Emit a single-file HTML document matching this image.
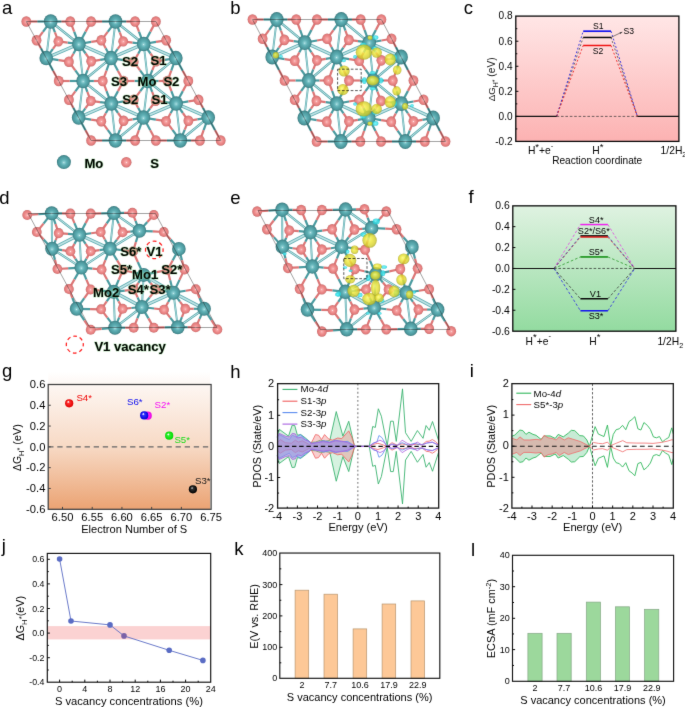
<!DOCTYPE html>
<html lang="en"><head><meta charset="utf-8"><title>Figure</title>
<style>
html,body{margin:0;padding:0;background:#fff;}
body{width:685px;height:707px;overflow:hidden;font-family:"Liberation Sans",sans-serif;}
svg{display:block;}
text{white-space:pre;}
</style></head><body>
<svg width="685" height="707" viewBox="0 0 685 707" font-family="'Liberation Sans', sans-serif">
<filter id="soft" x="0" y="0" width="685" height="707" filterUnits="userSpaceOnUse" color-interpolation-filters="sRGB"><feConvolveMatrix order="3" kernelMatrix="6 67 6 67 708 67 6 67 6" divisor="1000" edgeMode="duplicate" preserveAlpha="true"/></filter>
<rect width="685" height="707" fill="#fff"/>
<g filter="url(#soft)">
<rect x="-5" y="-5" width="695" height="717" fill="#fff"/>
<defs>
<radialGradient id="gMo" cx="0.5" cy="0.5" r="0.5" fx="0.5" fy="0.54">
<stop offset="0" stop-color="#e4f6f7"/><stop offset="0.1" stop-color="#8fd0d4"/><stop offset="0.4" stop-color="#5fb0b5"/><stop offset="0.8" stop-color="#4c989d"/><stop offset="0.93" stop-color="#41868b"/><stop offset="1" stop-color="#3a767a"/>
</radialGradient>
<radialGradient id="gS" cx="0.5" cy="0.5" r="0.5" fx="0.5" fy="0.53">
<stop offset="0" stop-color="#fff2f2"/><stop offset="0.13" stop-color="#f7abab"/><stop offset="0.5" stop-color="#ee8c8c"/><stop offset="0.85" stop-color="#e07a7a"/><stop offset="0.93" stop-color="#d27070"/><stop offset="1" stop-color="#c06464"/>
</radialGradient>
<radialGradient id="gY" cx="0.5" cy="0.5" r="0.5" fx="0.4" fy="0.38">
<stop offset="0" stop-color="#fdf96e"/><stop offset="0.45" stop-color="#ece632"/><stop offset="0.82" stop-color="#d3cd28"/><stop offset="1" stop-color="#aba620"/>
</radialGradient>
<radialGradient id="gC" cx="0.5" cy="0.5" r="0.5">
<stop offset="0" stop-color="#5ff0f5"/><stop offset="0.7" stop-color="#2fdde6"/><stop offset="1" stop-color="#22c3cf"/>
</radialGradient>
<linearGradient id="bgC" x1="0" y1="0" x2="0" y2="1">
<stop offset="0" stop-color="#ffe6e6"/><stop offset="1" stop-color="#fcb2b2"/>
</linearGradient>
<linearGradient id="bgF" x1="0" y1="0" x2="0" y2="1">
<stop offset="0" stop-color="#dff2e1"/><stop offset="1" stop-color="#93dba0"/>
</linearGradient>
<linearGradient id="bgG" x1="0" y1="0" x2="0" y2="1">
<stop offset="0" stop-color="#ffffff"/><stop offset="0.12" stop-color="#fdf5f0"/><stop offset="0.55" stop-color="#f7d9c4"/><stop offset="1" stop-color="#eba373"/>
</linearGradient>
<radialGradient id="bR" cx="0.5" cy="0.5" r="0.5" fx="0.36" fy="0.3"><stop offset="0" stop-color="#ffffff"/><stop offset="0.08" stop-color="#fff"/><stop offset="0.32" stop-color="#ff3030"/><stop offset="1" stop-color="#e00000"/></radialGradient>
<radialGradient id="bB" cx="0.5" cy="0.5" r="0.5" fx="0.36" fy="0.3"><stop offset="0" stop-color="#ffffff"/><stop offset="0.08" stop-color="#fff"/><stop offset="0.32" stop-color="#3030ff"/><stop offset="1" stop-color="#0000d8"/></radialGradient>
<radialGradient id="bM" cx="0.5" cy="0.5" r="0.5" fx="0.36" fy="0.3"><stop offset="0" stop-color="#ffffff"/><stop offset="0.08" stop-color="#fff"/><stop offset="0.32" stop-color="#ff30ff"/><stop offset="1" stop-color="#e800e0"/></radialGradient>
<radialGradient id="bG" cx="0.5" cy="0.5" r="0.5" fx="0.36" fy="0.3"><stop offset="0" stop-color="#ffffff"/><stop offset="0.08" stop-color="#fff"/><stop offset="0.32" stop-color="#30f030"/><stop offset="1" stop-color="#00d800"/></radialGradient>
<radialGradient id="bK" cx="0.5" cy="0.5" r="0.5" fx="0.38" fy="0.32"><stop offset="0" stop-color="#e8e8e8"/><stop offset="0.3" stop-color="#303030"/><stop offset="1" stop-color="#000000"/></radialGradient>
</defs>
<g id="pa"><g stroke-linecap="butt"><line x1="50.7" y1="21.5" x2="78.9" y2="43.99" stroke="#56a8ad" stroke-width="2.3"/><line x1="50.7" y1="21.5" x2="78.9" y2="43.99" stroke="#d4eded" stroke-width="0.9"/><line x1="50.7" y1="21.5" x2="46.23" y2="58.09" stroke="#56a8ad" stroke-width="1.9"/><line x1="50.7" y1="21.5" x2="46.23" y2="58.09" stroke="#c4e6e7" stroke-width="0.7"/><line x1="115.5" y1="21.5" x2="143.7" y2="43.99" stroke="#56a8ad" stroke-width="2.3"/><line x1="115.5" y1="21.5" x2="143.7" y2="43.99" stroke="#d4eded" stroke-width="0.9"/><line x1="115.5" y1="21.5" x2="111.03" y2="58.09" stroke="#56a8ad" stroke-width="1.9"/><line x1="115.5" y1="21.5" x2="111.03" y2="58.09" stroke="#c4e6e7" stroke-width="0.7"/><line x1="83.1" y1="81" x2="78.9" y2="43.99" stroke="#56a8ad" stroke-width="1.9"/><line x1="83.1" y1="81" x2="78.9" y2="43.99" stroke="#c4e6e7" stroke-width="0.7"/><line x1="83.1" y1="81" x2="111.3" y2="103.49" stroke="#56a8ad" stroke-width="2.3"/><line x1="83.1" y1="81" x2="111.3" y2="103.49" stroke="#d4eded" stroke-width="0.9"/><line x1="83.1" y1="81" x2="111.03" y2="58.09" stroke="#56a8ad" stroke-width="2.3"/><line x1="83.1" y1="81" x2="111.03" y2="58.09" stroke="#d4eded" stroke-width="0.9"/><line x1="83.1" y1="81" x2="78.63" y2="117.59" stroke="#56a8ad" stroke-width="1.9"/><line x1="83.1" y1="81" x2="78.63" y2="117.59" stroke="#c4e6e7" stroke-width="0.7"/><line x1="147.9" y1="81" x2="143.7" y2="43.99" stroke="#56a8ad" stroke-width="1.9"/><line x1="147.9" y1="81" x2="143.7" y2="43.99" stroke="#c4e6e7" stroke-width="0.7"/><line x1="147.9" y1="81" x2="176.1" y2="103.49" stroke="#56a8ad" stroke-width="2.3"/><line x1="147.9" y1="81" x2="176.1" y2="103.49" stroke="#d4eded" stroke-width="0.9"/><line x1="147.9" y1="81" x2="175.83" y2="58.09" stroke="#56a8ad" stroke-width="2.3"/><line x1="147.9" y1="81" x2="175.83" y2="58.09" stroke="#d4eded" stroke-width="0.9"/><line x1="147.9" y1="81" x2="143.43" y2="117.59" stroke="#56a8ad" stroke-width="1.9"/><line x1="147.9" y1="81" x2="143.43" y2="117.59" stroke="#c4e6e7" stroke-width="0.7"/><line x1="115.5" y1="140.5" x2="111.3" y2="103.49" stroke="#56a8ad" stroke-width="1.9"/><line x1="115.5" y1="140.5" x2="111.3" y2="103.49" stroke="#c4e6e7" stroke-width="0.7"/><line x1="115.5" y1="140.5" x2="143.43" y2="117.59" stroke="#56a8ad" stroke-width="2.3"/><line x1="115.5" y1="140.5" x2="143.43" y2="117.59" stroke="#d4eded" stroke-width="0.9"/><line x1="180.3" y1="140.5" x2="176.1" y2="103.49" stroke="#56a8ad" stroke-width="1.9"/><line x1="180.3" y1="140.5" x2="176.1" y2="103.49" stroke="#c4e6e7" stroke-width="0.7"/><line x1="180.3" y1="140.5" x2="208.23" y2="117.59" stroke="#56a8ad" stroke-width="2.3"/><line x1="180.3" y1="140.5" x2="208.23" y2="117.59" stroke="#d4eded" stroke-width="0.9"/><line x1="78.9" y1="43.99" x2="46.23" y2="58.09" stroke="#5eadb2" stroke-width="3.3"/><line x1="78.9" y1="43.99" x2="46.23" y2="58.09" stroke="#bfe2e4" stroke-width="1.7"/><line x1="78.9" y1="43.99" x2="111.03" y2="58.09" stroke="#5eadb2" stroke-width="3.3"/><line x1="78.9" y1="43.99" x2="111.03" y2="58.09" stroke="#bfe2e4" stroke-width="1.7"/><line x1="143.7" y1="43.99" x2="111.03" y2="58.09" stroke="#5eadb2" stroke-width="3.3"/><line x1="143.7" y1="43.99" x2="111.03" y2="58.09" stroke="#bfe2e4" stroke-width="1.7"/><line x1="143.7" y1="43.99" x2="175.83" y2="58.09" stroke="#5eadb2" stroke-width="3.3"/><line x1="143.7" y1="43.99" x2="175.83" y2="58.09" stroke="#bfe2e4" stroke-width="1.7"/><line x1="111.3" y1="103.49" x2="78.63" y2="117.59" stroke="#5eadb2" stroke-width="3.3"/><line x1="111.3" y1="103.49" x2="78.63" y2="117.59" stroke="#bfe2e4" stroke-width="1.7"/><line x1="111.3" y1="103.49" x2="143.43" y2="117.59" stroke="#5eadb2" stroke-width="3.3"/><line x1="111.3" y1="103.49" x2="143.43" y2="117.59" stroke="#bfe2e4" stroke-width="1.7"/><line x1="176.1" y1="103.49" x2="143.43" y2="117.59" stroke="#5eadb2" stroke-width="3.3"/><line x1="176.1" y1="103.49" x2="143.43" y2="117.59" stroke="#bfe2e4" stroke-width="1.7"/><line x1="176.1" y1="103.49" x2="208.23" y2="117.59" stroke="#5eadb2" stroke-width="3.3"/><line x1="176.1" y1="103.49" x2="208.23" y2="117.59" stroke="#bfe2e4" stroke-width="1.7"/><line x1="50.7" y1="21.5" x2="37.28" y2="21.5" stroke="#4a9ba0" stroke-width="2.2"/><line x1="37.28" y1="21.5" x2="26.3" y2="21.5" stroke="#dc7676" stroke-width="2.2"/><line x1="50.7" y1="21.5" x2="61.48" y2="21.5" stroke="#4a9ba0" stroke-width="2.2"/><line x1="61.48" y1="21.5" x2="70.3" y2="21.5" stroke="#dc7676" stroke-width="2.2"/><line x1="50.7" y1="21.5" x2="42.91" y2="31.84" stroke="#4a9ba0" stroke-width="2.2"/><line x1="42.91" y1="31.84" x2="36.54" y2="40.3" stroke="#dc7676" stroke-width="2.2"/><line x1="50.7" y1="21.5" x2="54.95" y2="32.43" stroke="#4a9ba0" stroke-width="2.2"/><line x1="54.95" y1="32.43" x2="58.42" y2="41.37" stroke="#dc7676" stroke-width="2.2"/><line x1="115.5" y1="21.5" x2="102.08" y2="21.5" stroke="#4a9ba0" stroke-width="2.2"/><line x1="102.08" y1="21.5" x2="91.1" y2="21.5" stroke="#dc7676" stroke-width="2.2"/><line x1="115.5" y1="21.5" x2="126.28" y2="21.5" stroke="#4a9ba0" stroke-width="2.2"/><line x1="126.28" y1="21.5" x2="135.1" y2="21.5" stroke="#dc7676" stroke-width="2.2"/><line x1="115.5" y1="21.5" x2="107.71" y2="31.84" stroke="#4a9ba0" stroke-width="2.2"/><line x1="107.71" y1="31.84" x2="101.34" y2="40.3" stroke="#dc7676" stroke-width="2.2"/><line x1="115.5" y1="21.5" x2="119.75" y2="32.43" stroke="#4a9ba0" stroke-width="2.2"/><line x1="119.75" y1="32.43" x2="123.22" y2="41.37" stroke="#dc7676" stroke-width="2.2"/><line x1="83.1" y1="81" x2="69.68" y2="81" stroke="#4a9ba0" stroke-width="2.2"/><line x1="69.68" y1="81" x2="58.7" y2="81" stroke="#dc7676" stroke-width="2.2"/><line x1="83.1" y1="81" x2="93.88" y2="81" stroke="#4a9ba0" stroke-width="2.2"/><line x1="93.88" y1="81" x2="102.7" y2="81" stroke="#dc7676" stroke-width="2.2"/><line x1="83.1" y1="81" x2="75.31" y2="91.34" stroke="#4a9ba0" stroke-width="2.2"/><line x1="75.31" y1="91.34" x2="68.94" y2="99.8" stroke="#dc7676" stroke-width="2.2"/><line x1="83.1" y1="81" x2="87.35" y2="91.93" stroke="#4a9ba0" stroke-width="2.2"/><line x1="87.35" y1="91.93" x2="90.82" y2="100.87" stroke="#dc7676" stroke-width="2.2"/><line x1="83.1" y1="81" x2="75.28" y2="70.38" stroke="#4a9ba0" stroke-width="2.2"/><line x1="75.28" y1="70.38" x2="68.89" y2="61.7" stroke="#dc7676" stroke-width="2.2"/><line x1="83.1" y1="81" x2="87.55" y2="70.17" stroke="#4a9ba0" stroke-width="2.2"/><line x1="87.55" y1="70.17" x2="91.2" y2="61.31" stroke="#dc7676" stroke-width="2.2"/><line x1="147.9" y1="81" x2="134.48" y2="81" stroke="#4a9ba0" stroke-width="2.2"/><line x1="134.48" y1="81" x2="123.5" y2="81" stroke="#dc7676" stroke-width="2.2"/><line x1="147.9" y1="81" x2="158.68" y2="81" stroke="#4a9ba0" stroke-width="2.2"/><line x1="158.68" y1="81" x2="167.5" y2="81" stroke="#dc7676" stroke-width="2.2"/><line x1="147.9" y1="81" x2="140.11" y2="91.34" stroke="#4a9ba0" stroke-width="2.2"/><line x1="140.11" y1="91.34" x2="133.74" y2="99.8" stroke="#dc7676" stroke-width="2.2"/><line x1="147.9" y1="81" x2="152.15" y2="91.93" stroke="#4a9ba0" stroke-width="2.2"/><line x1="152.15" y1="91.93" x2="155.62" y2="100.87" stroke="#dc7676" stroke-width="2.2"/><line x1="147.9" y1="81" x2="140.08" y2="70.38" stroke="#4a9ba0" stroke-width="2.2"/><line x1="140.08" y1="70.38" x2="133.69" y2="61.7" stroke="#dc7676" stroke-width="2.2"/><line x1="147.9" y1="81" x2="152.35" y2="70.17" stroke="#4a9ba0" stroke-width="2.2"/><line x1="152.35" y1="70.17" x2="156" y2="61.31" stroke="#dc7676" stroke-width="2.2"/><line x1="115.5" y1="140.5" x2="102.08" y2="140.5" stroke="#4a9ba0" stroke-width="2.2"/><line x1="102.08" y1="140.5" x2="91.1" y2="140.5" stroke="#dc7676" stroke-width="2.2"/><line x1="115.5" y1="140.5" x2="126.28" y2="140.5" stroke="#4a9ba0" stroke-width="2.2"/><line x1="126.28" y1="140.5" x2="135.1" y2="140.5" stroke="#dc7676" stroke-width="2.2"/><line x1="115.5" y1="140.5" x2="107.68" y2="129.88" stroke="#4a9ba0" stroke-width="2.2"/><line x1="107.68" y1="129.88" x2="101.29" y2="121.2" stroke="#dc7676" stroke-width="2.2"/><line x1="115.5" y1="140.5" x2="119.95" y2="129.67" stroke="#4a9ba0" stroke-width="2.2"/><line x1="119.95" y1="129.67" x2="123.6" y2="120.81" stroke="#dc7676" stroke-width="2.2"/><line x1="180.3" y1="140.5" x2="166.88" y2="140.5" stroke="#4a9ba0" stroke-width="2.2"/><line x1="166.88" y1="140.5" x2="155.9" y2="140.5" stroke="#dc7676" stroke-width="2.2"/><line x1="180.3" y1="140.5" x2="191.08" y2="140.5" stroke="#4a9ba0" stroke-width="2.2"/><line x1="191.08" y1="140.5" x2="199.9" y2="140.5" stroke="#dc7676" stroke-width="2.2"/><line x1="180.3" y1="140.5" x2="172.48" y2="129.88" stroke="#4a9ba0" stroke-width="2.2"/><line x1="172.48" y1="129.88" x2="166.09" y2="121.2" stroke="#dc7676" stroke-width="2.2"/><line x1="180.3" y1="140.5" x2="184.75" y2="129.67" stroke="#4a9ba0" stroke-width="2.2"/><line x1="184.75" y1="129.67" x2="188.4" y2="120.81" stroke="#dc7676" stroke-width="2.2"/><line x1="78.9" y1="43.99" x2="85.61" y2="31.62" stroke="#4a9ba0" stroke-width="2.2"/><line x1="85.61" y1="31.62" x2="91.1" y2="21.5" stroke="#dc7676" stroke-width="2.2"/><line x1="78.9" y1="43.99" x2="74.17" y2="31.62" stroke="#4a9ba0" stroke-width="2.2"/><line x1="74.17" y1="31.62" x2="70.3" y2="21.5" stroke="#dc7676" stroke-width="2.2"/><line x1="78.9" y1="43.99" x2="91.24" y2="41.96" stroke="#4a9ba0" stroke-width="2.2"/><line x1="91.24" y1="41.96" x2="101.34" y2="40.3" stroke="#dc7676" stroke-width="2.2"/><line x1="78.9" y1="43.99" x2="67.64" y2="42.55" stroke="#4a9ba0" stroke-width="2.2"/><line x1="67.64" y1="42.55" x2="58.42" y2="41.37" stroke="#dc7676" stroke-width="2.2"/><line x1="78.9" y1="43.99" x2="73.39" y2="53.73" stroke="#4a9ba0" stroke-width="2.2"/><line x1="73.39" y1="53.73" x2="68.89" y2="61.7" stroke="#dc7676" stroke-width="2.2"/><line x1="78.9" y1="43.99" x2="85.66" y2="53.51" stroke="#4a9ba0" stroke-width="2.2"/><line x1="85.66" y1="53.51" x2="91.2" y2="61.31" stroke="#dc7676" stroke-width="2.2"/><line x1="143.7" y1="43.99" x2="150.41" y2="31.62" stroke="#4a9ba0" stroke-width="2.2"/><line x1="150.41" y1="31.62" x2="155.9" y2="21.5" stroke="#dc7676" stroke-width="2.2"/><line x1="143.7" y1="43.99" x2="138.97" y2="31.62" stroke="#4a9ba0" stroke-width="2.2"/><line x1="138.97" y1="31.62" x2="135.1" y2="21.5" stroke="#dc7676" stroke-width="2.2"/><line x1="143.7" y1="43.99" x2="156.04" y2="41.96" stroke="#4a9ba0" stroke-width="2.2"/><line x1="156.04" y1="41.96" x2="166.14" y2="40.3" stroke="#dc7676" stroke-width="2.2"/><line x1="143.7" y1="43.99" x2="132.44" y2="42.55" stroke="#4a9ba0" stroke-width="2.2"/><line x1="132.44" y1="42.55" x2="123.22" y2="41.37" stroke="#dc7676" stroke-width="2.2"/><line x1="143.7" y1="43.99" x2="138.19" y2="53.73" stroke="#4a9ba0" stroke-width="2.2"/><line x1="138.19" y1="53.73" x2="133.69" y2="61.7" stroke="#dc7676" stroke-width="2.2"/><line x1="143.7" y1="43.99" x2="150.46" y2="53.51" stroke="#4a9ba0" stroke-width="2.2"/><line x1="150.46" y1="53.51" x2="156" y2="61.31" stroke="#dc7676" stroke-width="2.2"/><line x1="111.3" y1="103.49" x2="118.01" y2="91.12" stroke="#4a9ba0" stroke-width="2.2"/><line x1="118.01" y1="91.12" x2="123.5" y2="81" stroke="#dc7676" stroke-width="2.2"/><line x1="111.3" y1="103.49" x2="106.57" y2="91.12" stroke="#4a9ba0" stroke-width="2.2"/><line x1="106.57" y1="91.12" x2="102.7" y2="81" stroke="#dc7676" stroke-width="2.2"/><line x1="111.3" y1="103.49" x2="123.64" y2="101.46" stroke="#4a9ba0" stroke-width="2.2"/><line x1="123.64" y1="101.46" x2="133.74" y2="99.8" stroke="#dc7676" stroke-width="2.2"/><line x1="111.3" y1="103.49" x2="100.04" y2="102.05" stroke="#4a9ba0" stroke-width="2.2"/><line x1="100.04" y1="102.05" x2="90.82" y2="100.87" stroke="#dc7676" stroke-width="2.2"/><line x1="111.3" y1="103.49" x2="105.79" y2="113.23" stroke="#4a9ba0" stroke-width="2.2"/><line x1="105.79" y1="113.23" x2="101.29" y2="121.2" stroke="#dc7676" stroke-width="2.2"/><line x1="111.3" y1="103.49" x2="118.06" y2="113.01" stroke="#4a9ba0" stroke-width="2.2"/><line x1="118.06" y1="113.01" x2="123.6" y2="120.81" stroke="#dc7676" stroke-width="2.2"/><line x1="176.1" y1="103.49" x2="182.81" y2="91.12" stroke="#4a9ba0" stroke-width="2.2"/><line x1="182.81" y1="91.12" x2="188.3" y2="81" stroke="#dc7676" stroke-width="2.2"/><line x1="176.1" y1="103.49" x2="171.37" y2="91.12" stroke="#4a9ba0" stroke-width="2.2"/><line x1="171.37" y1="91.12" x2="167.5" y2="81" stroke="#dc7676" stroke-width="2.2"/><line x1="176.1" y1="103.49" x2="188.44" y2="101.46" stroke="#4a9ba0" stroke-width="2.2"/><line x1="188.44" y1="101.46" x2="198.54" y2="99.8" stroke="#dc7676" stroke-width="2.2"/><line x1="176.1" y1="103.49" x2="164.84" y2="102.05" stroke="#4a9ba0" stroke-width="2.2"/><line x1="164.84" y1="102.05" x2="155.62" y2="100.87" stroke="#dc7676" stroke-width="2.2"/><line x1="176.1" y1="103.49" x2="170.59" y2="113.23" stroke="#4a9ba0" stroke-width="2.2"/><line x1="170.59" y1="113.23" x2="166.09" y2="121.2" stroke="#dc7676" stroke-width="2.2"/><line x1="176.1" y1="103.49" x2="182.86" y2="113.01" stroke="#4a9ba0" stroke-width="2.2"/><line x1="182.86" y1="113.01" x2="188.4" y2="120.81" stroke="#dc7676" stroke-width="2.2"/><line x1="46.23" y1="58.09" x2="53.09" y2="70.69" stroke="#4a9ba0" stroke-width="2.2"/><line x1="53.09" y1="70.69" x2="58.7" y2="81" stroke="#dc7676" stroke-width="2.2"/><line x1="46.23" y1="58.09" x2="40.9" y2="48.31" stroke="#4a9ba0" stroke-width="2.2"/><line x1="40.9" y1="48.31" x2="36.54" y2="40.3" stroke="#dc7676" stroke-width="2.2"/><line x1="46.23" y1="58.09" x2="52.93" y2="48.9" stroke="#4a9ba0" stroke-width="2.2"/><line x1="52.93" y1="48.9" x2="58.42" y2="41.37" stroke="#dc7676" stroke-width="2.2"/><line x1="46.23" y1="58.09" x2="58.69" y2="60.08" stroke="#4a9ba0" stroke-width="2.2"/><line x1="58.69" y1="60.08" x2="68.89" y2="61.7" stroke="#dc7676" stroke-width="2.2"/><line x1="111.03" y1="58.09" x2="117.89" y2="70.69" stroke="#4a9ba0" stroke-width="2.2"/><line x1="117.89" y1="70.69" x2="123.5" y2="81" stroke="#dc7676" stroke-width="2.2"/><line x1="111.03" y1="58.09" x2="106.45" y2="70.69" stroke="#4a9ba0" stroke-width="2.2"/><line x1="106.45" y1="70.69" x2="102.7" y2="81" stroke="#dc7676" stroke-width="2.2"/><line x1="111.03" y1="58.09" x2="105.7" y2="48.31" stroke="#4a9ba0" stroke-width="2.2"/><line x1="105.7" y1="48.31" x2="101.34" y2="40.3" stroke="#dc7676" stroke-width="2.2"/><line x1="111.03" y1="58.09" x2="117.73" y2="48.9" stroke="#4a9ba0" stroke-width="2.2"/><line x1="117.73" y1="48.9" x2="123.22" y2="41.37" stroke="#dc7676" stroke-width="2.2"/><line x1="111.03" y1="58.09" x2="123.49" y2="60.08" stroke="#4a9ba0" stroke-width="2.2"/><line x1="123.49" y1="60.08" x2="133.69" y2="61.7" stroke="#dc7676" stroke-width="2.2"/><line x1="111.03" y1="58.09" x2="100.12" y2="59.86" stroke="#4a9ba0" stroke-width="2.2"/><line x1="100.12" y1="59.86" x2="91.2" y2="61.31" stroke="#dc7676" stroke-width="2.2"/><line x1="175.83" y1="58.09" x2="182.69" y2="70.69" stroke="#4a9ba0" stroke-width="2.2"/><line x1="182.69" y1="70.69" x2="188.3" y2="81" stroke="#dc7676" stroke-width="2.2"/><line x1="175.83" y1="58.09" x2="171.25" y2="70.69" stroke="#4a9ba0" stroke-width="2.2"/><line x1="171.25" y1="70.69" x2="167.5" y2="81" stroke="#dc7676" stroke-width="2.2"/><line x1="175.83" y1="58.09" x2="170.5" y2="48.31" stroke="#4a9ba0" stroke-width="2.2"/><line x1="170.5" y1="48.31" x2="166.14" y2="40.3" stroke="#dc7676" stroke-width="2.2"/><line x1="175.83" y1="58.09" x2="164.92" y2="59.86" stroke="#4a9ba0" stroke-width="2.2"/><line x1="164.92" y1="59.86" x2="156" y2="61.31" stroke="#dc7676" stroke-width="2.2"/><line x1="78.63" y1="117.59" x2="85.49" y2="130.19" stroke="#4a9ba0" stroke-width="2.2"/><line x1="85.49" y1="130.19" x2="91.1" y2="140.5" stroke="#dc7676" stroke-width="2.2"/><line x1="78.63" y1="117.59" x2="73.3" y2="107.81" stroke="#4a9ba0" stroke-width="2.2"/><line x1="73.3" y1="107.81" x2="68.94" y2="99.8" stroke="#dc7676" stroke-width="2.2"/><line x1="78.63" y1="117.59" x2="85.33" y2="108.4" stroke="#4a9ba0" stroke-width="2.2"/><line x1="85.33" y1="108.4" x2="90.82" y2="100.87" stroke="#dc7676" stroke-width="2.2"/><line x1="78.63" y1="117.59" x2="91.09" y2="119.58" stroke="#4a9ba0" stroke-width="2.2"/><line x1="91.09" y1="119.58" x2="101.29" y2="121.2" stroke="#dc7676" stroke-width="2.2"/><line x1="143.43" y1="117.59" x2="150.29" y2="130.19" stroke="#4a9ba0" stroke-width="2.2"/><line x1="150.29" y1="130.19" x2="155.9" y2="140.5" stroke="#dc7676" stroke-width="2.2"/><line x1="143.43" y1="117.59" x2="138.85" y2="130.19" stroke="#4a9ba0" stroke-width="2.2"/><line x1="138.85" y1="130.19" x2="135.1" y2="140.5" stroke="#dc7676" stroke-width="2.2"/><line x1="143.43" y1="117.59" x2="138.1" y2="107.81" stroke="#4a9ba0" stroke-width="2.2"/><line x1="138.1" y1="107.81" x2="133.74" y2="99.8" stroke="#dc7676" stroke-width="2.2"/><line x1="143.43" y1="117.59" x2="150.13" y2="108.4" stroke="#4a9ba0" stroke-width="2.2"/><line x1="150.13" y1="108.4" x2="155.62" y2="100.87" stroke="#dc7676" stroke-width="2.2"/><line x1="143.43" y1="117.59" x2="155.89" y2="119.58" stroke="#4a9ba0" stroke-width="2.2"/><line x1="155.89" y1="119.58" x2="166.09" y2="121.2" stroke="#dc7676" stroke-width="2.2"/><line x1="143.43" y1="117.59" x2="132.52" y2="119.36" stroke="#4a9ba0" stroke-width="2.2"/><line x1="132.52" y1="119.36" x2="123.6" y2="120.81" stroke="#dc7676" stroke-width="2.2"/><line x1="208.23" y1="117.59" x2="215.09" y2="130.19" stroke="#4a9ba0" stroke-width="2.2"/><line x1="215.09" y1="130.19" x2="220.7" y2="140.5" stroke="#dc7676" stroke-width="2.2"/><line x1="208.23" y1="117.59" x2="203.65" y2="130.19" stroke="#4a9ba0" stroke-width="2.2"/><line x1="203.65" y1="130.19" x2="199.9" y2="140.5" stroke="#dc7676" stroke-width="2.2"/><line x1="208.23" y1="117.59" x2="202.9" y2="107.81" stroke="#4a9ba0" stroke-width="2.2"/><line x1="202.9" y1="107.81" x2="198.54" y2="99.8" stroke="#dc7676" stroke-width="2.2"/><line x1="208.23" y1="117.59" x2="197.32" y2="119.36" stroke="#4a9ba0" stroke-width="2.2"/><line x1="197.32" y1="119.36" x2="188.4" y2="120.81" stroke="#dc7676" stroke-width="2.2"/></g><ellipse cx="26.3" cy="21.5" rx="4.9" ry="5.24" fill="url(#gS)"/><ellipse cx="91.1" cy="21.5" rx="4.9" ry="5.24" fill="url(#gS)"/><ellipse cx="155.9" cy="21.5" rx="4.9" ry="5.24" fill="url(#gS)"/><ellipse cx="58.7" cy="81" rx="4.9" ry="5.24" fill="url(#gS)"/><ellipse cx="123.5" cy="81" rx="4.9" ry="5.24" fill="url(#gS)"/><ellipse cx="188.3" cy="81" rx="4.9" ry="5.24" fill="url(#gS)"/><ellipse cx="91.1" cy="140.5" rx="4.9" ry="5.24" fill="url(#gS)"/><ellipse cx="155.9" cy="140.5" rx="4.9" ry="5.24" fill="url(#gS)"/><ellipse cx="220.7" cy="140.5" rx="4.9" ry="5.24" fill="url(#gS)"/><ellipse cx="70.3" cy="21.5" rx="4.9" ry="5.24" fill="url(#gS)"/><ellipse cx="135.1" cy="21.5" rx="4.9" ry="5.24" fill="url(#gS)"/><ellipse cx="102.7" cy="81" rx="4.9" ry="5.24" fill="url(#gS)"/><ellipse cx="167.5" cy="81" rx="4.9" ry="5.24" fill="url(#gS)"/><ellipse cx="135.1" cy="140.5" rx="4.9" ry="5.24" fill="url(#gS)"/><ellipse cx="199.9" cy="140.5" rx="4.9" ry="5.24" fill="url(#gS)"/><ellipse cx="36.54" cy="40.3" rx="4.9" ry="5.24" fill="url(#gS)"/><ellipse cx="101.34" cy="40.3" rx="4.9" ry="5.24" fill="url(#gS)"/><ellipse cx="166.14" cy="40.3" rx="4.9" ry="5.24" fill="url(#gS)"/><ellipse cx="68.94" cy="99.8" rx="4.9" ry="5.24" fill="url(#gS)"/><ellipse cx="133.74" cy="99.8" rx="4.9" ry="5.24" fill="url(#gS)"/><ellipse cx="198.54" cy="99.8" rx="4.9" ry="5.24" fill="url(#gS)"/><ellipse cx="58.42" cy="41.37" rx="4.9" ry="5.24" fill="url(#gS)"/><ellipse cx="123.22" cy="41.37" rx="4.9" ry="5.24" fill="url(#gS)"/><ellipse cx="90.82" cy="100.87" rx="4.9" ry="5.24" fill="url(#gS)"/><ellipse cx="155.62" cy="100.87" rx="4.9" ry="5.24" fill="url(#gS)"/><ellipse cx="68.89" cy="61.7" rx="4.9" ry="5.24" fill="url(#gS)"/><ellipse cx="133.69" cy="61.7" rx="4.9" ry="5.24" fill="url(#gS)"/><ellipse cx="101.29" cy="121.2" rx="4.9" ry="5.24" fill="url(#gS)"/><ellipse cx="166.09" cy="121.2" rx="4.9" ry="5.24" fill="url(#gS)"/><ellipse cx="91.2" cy="61.31" rx="4.9" ry="5.24" fill="url(#gS)"/><ellipse cx="156" cy="61.31" rx="4.9" ry="5.24" fill="url(#gS)"/><ellipse cx="123.6" cy="120.81" rx="4.9" ry="5.24" fill="url(#gS)"/><ellipse cx="188.4" cy="120.81" rx="4.9" ry="5.24" fill="url(#gS)"/><ellipse cx="50.7" cy="21.5" rx="6.8" ry="7.28" fill="url(#gMo)"/><ellipse cx="115.5" cy="21.5" rx="6.8" ry="7.28" fill="url(#gMo)"/><ellipse cx="83.1" cy="81" rx="6.8" ry="7.28" fill="url(#gMo)"/><ellipse cx="147.9" cy="81" rx="6.8" ry="7.28" fill="url(#gMo)"/><ellipse cx="115.5" cy="140.5" rx="6.8" ry="7.28" fill="url(#gMo)"/><ellipse cx="180.3" cy="140.5" rx="6.8" ry="7.28" fill="url(#gMo)"/><ellipse cx="78.9" cy="43.99" rx="6.8" ry="7.28" fill="url(#gMo)"/><ellipse cx="143.7" cy="43.99" rx="6.8" ry="7.28" fill="url(#gMo)"/><ellipse cx="111.3" cy="103.49" rx="6.8" ry="7.28" fill="url(#gMo)"/><ellipse cx="176.1" cy="103.49" rx="6.8" ry="7.28" fill="url(#gMo)"/><ellipse cx="46.23" cy="58.09" rx="6.8" ry="7.28" fill="url(#gMo)"/><ellipse cx="111.03" cy="58.09" rx="6.8" ry="7.28" fill="url(#gMo)"/><ellipse cx="175.83" cy="58.09" rx="6.8" ry="7.28" fill="url(#gMo)"/><ellipse cx="78.63" cy="117.59" rx="6.8" ry="7.28" fill="url(#gMo)"/><ellipse cx="143.43" cy="117.59" rx="6.8" ry="7.28" fill="url(#gMo)"/><ellipse cx="208.23" cy="117.59" rx="6.8" ry="7.28" fill="url(#gMo)"/><polygon points="26.3,21.5 155.9,21.5 220.7,140.5 91.1,140.5" fill="none" stroke="#1a1a1a" stroke-width="0.5" opacity="0.8"/><text x="130" y="65.6" font-size="13.1" font-weight="bold" text-anchor="middle" fill="#000600" stroke="#86cf86" stroke-width="1.2" stroke-opacity="0.5" paint-order="stroke" stroke-linejoin="round">S2</text><text x="158.6" y="65.3" font-size="13.1" font-weight="bold" text-anchor="middle" fill="#000600" stroke="#86cf86" stroke-width="1.2" stroke-opacity="0.5" paint-order="stroke" stroke-linejoin="round">S1</text><text x="119" y="85.8" font-size="13.1" font-weight="bold" text-anchor="middle" fill="#000600" stroke="#86cf86" stroke-width="1.2" stroke-opacity="0.5" paint-order="stroke" stroke-linejoin="round">S3</text><text x="147" y="85.6" font-size="13.1" font-weight="bold" text-anchor="middle" fill="#000600" stroke="#86cf86" stroke-width="1.2" stroke-opacity="0.5" paint-order="stroke" stroke-linejoin="round">Mo</text><text x="171.4" y="85.6" font-size="13.1" font-weight="bold" text-anchor="middle" fill="#000600" stroke="#86cf86" stroke-width="1.2" stroke-opacity="0.5" paint-order="stroke" stroke-linejoin="round">S2</text><text x="130.2" y="104.3" font-size="13.1" font-weight="bold" text-anchor="middle" fill="#000600" stroke="#86cf86" stroke-width="1.2" stroke-opacity="0.5" paint-order="stroke" stroke-linejoin="round">S2</text><text x="159.6" y="104.3" font-size="13.1" font-weight="bold" text-anchor="middle" fill="#000600" stroke="#86cf86" stroke-width="1.2" stroke-opacity="0.5" paint-order="stroke" stroke-linejoin="round">S1</text><circle cx="63.9" cy="162.1" r="7" fill="url(#gMo)"/><text x="84.4" y="167.8" font-size="13.1" font-weight="bold" text-anchor="start" fill="#000600" stroke="#86cf86" stroke-width="1.2" stroke-opacity="0.5" paint-order="stroke" stroke-linejoin="round">Mo</text><circle cx="126.3" cy="162.2" r="5.2" fill="url(#gS)"/><text x="150.2" y="167.8" font-size="13.1" font-weight="bold" text-anchor="start" fill="#000600" stroke="#86cf86" stroke-width="1.2" stroke-opacity="0.5" paint-order="stroke" stroke-linejoin="round">S</text></g>
<g id="pb"><g stroke-linecap="butt"><line x1="276.77" y1="19.5" x2="304.75" y2="42.56" stroke="#56a8ad" stroke-width="2.3"/><line x1="276.77" y1="19.5" x2="304.75" y2="42.56" stroke="#d4eded" stroke-width="0.9"/><line x1="276.77" y1="19.5" x2="272.21" y2="57.02" stroke="#56a8ad" stroke-width="1.9"/><line x1="276.77" y1="19.5" x2="272.21" y2="57.02" stroke="#c4e6e7" stroke-width="0.7"/><line x1="341.22" y1="19.5" x2="369.2" y2="42.56" stroke="#56a8ad" stroke-width="2.3"/><line x1="341.22" y1="19.5" x2="369.2" y2="42.56" stroke="#d4eded" stroke-width="0.9"/><line x1="341.22" y1="19.5" x2="336.66" y2="57.02" stroke="#56a8ad" stroke-width="1.9"/><line x1="341.22" y1="19.5" x2="336.66" y2="57.02" stroke="#c4e6e7" stroke-width="0.7"/><line x1="308.82" y1="80.5" x2="304.75" y2="42.56" stroke="#56a8ad" stroke-width="1.9"/><line x1="308.82" y1="80.5" x2="304.75" y2="42.56" stroke="#c4e6e7" stroke-width="0.7"/><line x1="308.82" y1="80.5" x2="336.8" y2="103.56" stroke="#56a8ad" stroke-width="2.3"/><line x1="308.82" y1="80.5" x2="336.8" y2="103.56" stroke="#d4eded" stroke-width="0.9"/><line x1="308.82" y1="80.5" x2="336.66" y2="57.02" stroke="#56a8ad" stroke-width="2.3"/><line x1="308.82" y1="80.5" x2="336.66" y2="57.02" stroke="#d4eded" stroke-width="0.9"/><line x1="308.82" y1="80.5" x2="304.26" y2="118.02" stroke="#56a8ad" stroke-width="1.9"/><line x1="308.82" y1="80.5" x2="304.26" y2="118.02" stroke="#c4e6e7" stroke-width="0.7"/><line x1="373.27" y1="80.5" x2="369.2" y2="42.56" stroke="#56a8ad" stroke-width="1.9"/><line x1="373.27" y1="80.5" x2="369.2" y2="42.56" stroke="#c4e6e7" stroke-width="0.7"/><line x1="373.27" y1="80.5" x2="401.25" y2="103.56" stroke="#56a8ad" stroke-width="2.3"/><line x1="373.27" y1="80.5" x2="401.25" y2="103.56" stroke="#d4eded" stroke-width="0.9"/><line x1="373.27" y1="80.5" x2="401.11" y2="57.02" stroke="#56a8ad" stroke-width="2.3"/><line x1="373.27" y1="80.5" x2="401.11" y2="57.02" stroke="#d4eded" stroke-width="0.9"/><line x1="373.27" y1="80.5" x2="368.71" y2="118.02" stroke="#56a8ad" stroke-width="1.9"/><line x1="373.27" y1="80.5" x2="368.71" y2="118.02" stroke="#c4e6e7" stroke-width="0.7"/><line x1="340.87" y1="141.5" x2="336.8" y2="103.56" stroke="#56a8ad" stroke-width="1.9"/><line x1="340.87" y1="141.5" x2="336.8" y2="103.56" stroke="#c4e6e7" stroke-width="0.7"/><line x1="340.87" y1="141.5" x2="368.71" y2="118.02" stroke="#56a8ad" stroke-width="2.3"/><line x1="340.87" y1="141.5" x2="368.71" y2="118.02" stroke="#d4eded" stroke-width="0.9"/><line x1="405.32" y1="141.5" x2="401.25" y2="103.56" stroke="#56a8ad" stroke-width="1.9"/><line x1="405.32" y1="141.5" x2="401.25" y2="103.56" stroke="#c4e6e7" stroke-width="0.7"/><line x1="405.32" y1="141.5" x2="433.16" y2="118.02" stroke="#56a8ad" stroke-width="2.3"/><line x1="405.32" y1="141.5" x2="433.16" y2="118.02" stroke="#d4eded" stroke-width="0.9"/><line x1="304.75" y1="42.56" x2="272.21" y2="57.02" stroke="#5eadb2" stroke-width="3.3"/><line x1="304.75" y1="42.56" x2="272.21" y2="57.02" stroke="#bfe2e4" stroke-width="1.7"/><line x1="304.75" y1="42.56" x2="336.66" y2="57.02" stroke="#5eadb2" stroke-width="3.3"/><line x1="304.75" y1="42.56" x2="336.66" y2="57.02" stroke="#bfe2e4" stroke-width="1.7"/><line x1="369.2" y1="42.56" x2="336.66" y2="57.02" stroke="#5eadb2" stroke-width="3.3"/><line x1="369.2" y1="42.56" x2="336.66" y2="57.02" stroke="#bfe2e4" stroke-width="1.7"/><line x1="369.2" y1="42.56" x2="401.11" y2="57.02" stroke="#5eadb2" stroke-width="3.3"/><line x1="369.2" y1="42.56" x2="401.11" y2="57.02" stroke="#bfe2e4" stroke-width="1.7"/><line x1="336.8" y1="103.56" x2="304.26" y2="118.02" stroke="#5eadb2" stroke-width="3.3"/><line x1="336.8" y1="103.56" x2="304.26" y2="118.02" stroke="#bfe2e4" stroke-width="1.7"/><line x1="336.8" y1="103.56" x2="368.71" y2="118.02" stroke="#5eadb2" stroke-width="3.3"/><line x1="336.8" y1="103.56" x2="368.71" y2="118.02" stroke="#bfe2e4" stroke-width="1.7"/><line x1="401.25" y1="103.56" x2="368.71" y2="118.02" stroke="#5eadb2" stroke-width="3.3"/><line x1="401.25" y1="103.56" x2="368.71" y2="118.02" stroke="#bfe2e4" stroke-width="1.7"/><line x1="401.25" y1="103.56" x2="433.16" y2="118.02" stroke="#5eadb2" stroke-width="3.3"/><line x1="401.25" y1="103.56" x2="433.16" y2="118.02" stroke="#bfe2e4" stroke-width="1.7"/><line x1="276.77" y1="19.5" x2="263.42" y2="19.5" stroke="#4a9ba0" stroke-width="2.2"/><line x1="263.42" y1="19.5" x2="252.5" y2="19.5" stroke="#dc7676" stroke-width="2.2"/><line x1="276.77" y1="19.5" x2="287.49" y2="19.5" stroke="#4a9ba0" stroke-width="2.2"/><line x1="287.49" y1="19.5" x2="296.26" y2="19.5" stroke="#dc7676" stroke-width="2.2"/><line x1="276.77" y1="19.5" x2="268.99" y2="30.1" stroke="#4a9ba0" stroke-width="2.2"/><line x1="268.99" y1="30.1" x2="262.63" y2="38.78" stroke="#dc7676" stroke-width="2.2"/><line x1="276.77" y1="19.5" x2="280.96" y2="30.71" stroke="#4a9ba0" stroke-width="2.2"/><line x1="280.96" y1="30.71" x2="284.39" y2="39.87" stroke="#dc7676" stroke-width="2.2"/><line x1="341.22" y1="19.5" x2="327.87" y2="19.5" stroke="#4a9ba0" stroke-width="2.2"/><line x1="327.87" y1="19.5" x2="316.95" y2="19.5" stroke="#dc7676" stroke-width="2.2"/><line x1="341.22" y1="19.5" x2="351.94" y2="19.5" stroke="#4a9ba0" stroke-width="2.2"/><line x1="351.94" y1="19.5" x2="360.71" y2="19.5" stroke="#dc7676" stroke-width="2.2"/><line x1="341.22" y1="19.5" x2="333.44" y2="30.1" stroke="#4a9ba0" stroke-width="2.2"/><line x1="333.44" y1="30.1" x2="327.08" y2="38.78" stroke="#dc7676" stroke-width="2.2"/><line x1="341.22" y1="19.5" x2="345.41" y2="30.71" stroke="#4a9ba0" stroke-width="2.2"/><line x1="345.41" y1="30.71" x2="348.84" y2="39.87" stroke="#dc7676" stroke-width="2.2"/><line x1="308.82" y1="80.5" x2="295.47" y2="80.5" stroke="#4a9ba0" stroke-width="2.2"/><line x1="295.47" y1="80.5" x2="284.55" y2="80.5" stroke="#dc7676" stroke-width="2.2"/><line x1="308.82" y1="80.5" x2="319.54" y2="80.5" stroke="#4a9ba0" stroke-width="2.2"/><line x1="319.54" y1="80.5" x2="328.31" y2="80.5" stroke="#dc7676" stroke-width="2.2"/><line x1="308.82" y1="80.5" x2="301.04" y2="91.1" stroke="#4a9ba0" stroke-width="2.2"/><line x1="301.04" y1="91.1" x2="294.68" y2="99.78" stroke="#dc7676" stroke-width="2.2"/><line x1="308.82" y1="80.5" x2="313.01" y2="91.71" stroke="#4a9ba0" stroke-width="2.2"/><line x1="313.01" y1="91.71" x2="316.44" y2="100.87" stroke="#dc7676" stroke-width="2.2"/><line x1="308.82" y1="80.5" x2="301.07" y2="69.62" stroke="#4a9ba0" stroke-width="2.2"/><line x1="301.07" y1="69.62" x2="294.74" y2="60.71" stroke="#dc7676" stroke-width="2.2"/><line x1="308.82" y1="80.5" x2="313.28" y2="69.39" stroke="#4a9ba0" stroke-width="2.2"/><line x1="313.28" y1="69.39" x2="316.93" y2="60.31" stroke="#dc7676" stroke-width="2.2"/><line x1="373.27" y1="80.5" x2="359.92" y2="80.5" stroke="#4a9ba0" stroke-width="2.2"/><line x1="359.92" y1="80.5" x2="349" y2="80.5" stroke="#dc7676" stroke-width="2.2"/><line x1="373.27" y1="80.5" x2="383.99" y2="80.5" stroke="#4a9ba0" stroke-width="2.2"/><line x1="383.99" y1="80.5" x2="392.76" y2="80.5" stroke="#dc7676" stroke-width="2.2"/><line x1="373.27" y1="80.5" x2="365.49" y2="91.1" stroke="#4a9ba0" stroke-width="2.2"/><line x1="365.49" y1="91.1" x2="359.13" y2="99.78" stroke="#dc7676" stroke-width="2.2"/><line x1="373.27" y1="80.5" x2="377.46" y2="91.71" stroke="#4a9ba0" stroke-width="2.2"/><line x1="377.46" y1="91.71" x2="380.89" y2="100.87" stroke="#dc7676" stroke-width="2.2"/><line x1="373.27" y1="80.5" x2="365.52" y2="69.62" stroke="#4a9ba0" stroke-width="2.2"/><line x1="365.52" y1="69.62" x2="359.19" y2="60.71" stroke="#dc7676" stroke-width="2.2"/><line x1="373.27" y1="80.5" x2="377.73" y2="69.39" stroke="#4a9ba0" stroke-width="2.2"/><line x1="377.73" y1="69.39" x2="381.38" y2="60.31" stroke="#dc7676" stroke-width="2.2"/><line x1="340.87" y1="141.5" x2="327.52" y2="141.5" stroke="#4a9ba0" stroke-width="2.2"/><line x1="327.52" y1="141.5" x2="316.6" y2="141.5" stroke="#dc7676" stroke-width="2.2"/><line x1="340.87" y1="141.5" x2="351.59" y2="141.5" stroke="#4a9ba0" stroke-width="2.2"/><line x1="351.59" y1="141.5" x2="360.36" y2="141.5" stroke="#dc7676" stroke-width="2.2"/><line x1="340.87" y1="141.5" x2="333.12" y2="130.62" stroke="#4a9ba0" stroke-width="2.2"/><line x1="333.12" y1="130.62" x2="326.79" y2="121.71" stroke="#dc7676" stroke-width="2.2"/><line x1="340.87" y1="141.5" x2="345.33" y2="130.39" stroke="#4a9ba0" stroke-width="2.2"/><line x1="345.33" y1="130.39" x2="348.98" y2="121.31" stroke="#dc7676" stroke-width="2.2"/><line x1="405.32" y1="141.5" x2="391.97" y2="141.5" stroke="#4a9ba0" stroke-width="2.2"/><line x1="391.97" y1="141.5" x2="381.05" y2="141.5" stroke="#dc7676" stroke-width="2.2"/><line x1="405.32" y1="141.5" x2="416.04" y2="141.5" stroke="#4a9ba0" stroke-width="2.2"/><line x1="416.04" y1="141.5" x2="424.81" y2="141.5" stroke="#dc7676" stroke-width="2.2"/><line x1="405.32" y1="141.5" x2="397.57" y2="130.62" stroke="#4a9ba0" stroke-width="2.2"/><line x1="397.57" y1="130.62" x2="391.24" y2="121.71" stroke="#dc7676" stroke-width="2.2"/><line x1="405.32" y1="141.5" x2="409.78" y2="130.39" stroke="#4a9ba0" stroke-width="2.2"/><line x1="409.78" y1="130.39" x2="413.43" y2="121.31" stroke="#dc7676" stroke-width="2.2"/><line x1="304.75" y1="42.56" x2="311.46" y2="29.88" stroke="#4a9ba0" stroke-width="2.2"/><line x1="311.46" y1="29.88" x2="316.95" y2="19.5" stroke="#dc7676" stroke-width="2.2"/><line x1="304.75" y1="42.56" x2="300.08" y2="29.88" stroke="#4a9ba0" stroke-width="2.2"/><line x1="300.08" y1="29.88" x2="296.26" y2="19.5" stroke="#dc7676" stroke-width="2.2"/><line x1="304.75" y1="42.56" x2="317.03" y2="40.48" stroke="#4a9ba0" stroke-width="2.2"/><line x1="317.03" y1="40.48" x2="327.08" y2="38.78" stroke="#dc7676" stroke-width="2.2"/><line x1="304.75" y1="42.56" x2="293.55" y2="41.08" stroke="#4a9ba0" stroke-width="2.2"/><line x1="293.55" y1="41.08" x2="284.39" y2="39.87" stroke="#dc7676" stroke-width="2.2"/><line x1="304.75" y1="42.56" x2="299.24" y2="52.54" stroke="#4a9ba0" stroke-width="2.2"/><line x1="299.24" y1="52.54" x2="294.74" y2="60.71" stroke="#dc7676" stroke-width="2.2"/><line x1="304.75" y1="42.56" x2="311.45" y2="52.32" stroke="#4a9ba0" stroke-width="2.2"/><line x1="311.45" y1="52.32" x2="316.93" y2="60.31" stroke="#dc7676" stroke-width="2.2"/><line x1="369.2" y1="42.56" x2="375.91" y2="29.88" stroke="#4a9ba0" stroke-width="2.2"/><line x1="375.91" y1="29.88" x2="381.4" y2="19.5" stroke="#dc7676" stroke-width="2.2"/><line x1="369.2" y1="42.56" x2="364.53" y2="29.88" stroke="#4a9ba0" stroke-width="2.2"/><line x1="364.53" y1="29.88" x2="360.71" y2="19.5" stroke="#dc7676" stroke-width="2.2"/><line x1="369.2" y1="42.56" x2="381.48" y2="40.48" stroke="#4a9ba0" stroke-width="2.2"/><line x1="381.48" y1="40.48" x2="391.53" y2="38.78" stroke="#dc7676" stroke-width="2.2"/><line x1="369.2" y1="42.56" x2="358" y2="41.08" stroke="#4a9ba0" stroke-width="2.2"/><line x1="358" y1="41.08" x2="348.84" y2="39.87" stroke="#dc7676" stroke-width="2.2"/><line x1="369.2" y1="42.56" x2="363.69" y2="52.54" stroke="#4a9ba0" stroke-width="2.2"/><line x1="363.69" y1="52.54" x2="359.19" y2="60.71" stroke="#dc7676" stroke-width="2.2"/><line x1="369.2" y1="42.56" x2="375.9" y2="52.32" stroke="#4a9ba0" stroke-width="2.2"/><line x1="375.9" y1="52.32" x2="381.38" y2="60.31" stroke="#dc7676" stroke-width="2.2"/><line x1="336.8" y1="103.56" x2="343.51" y2="90.88" stroke="#4a9ba0" stroke-width="2.2"/><line x1="343.51" y1="90.88" x2="349" y2="80.5" stroke="#dc7676" stroke-width="2.2"/><line x1="336.8" y1="103.56" x2="332.13" y2="90.88" stroke="#4a9ba0" stroke-width="2.2"/><line x1="332.13" y1="90.88" x2="328.31" y2="80.5" stroke="#dc7676" stroke-width="2.2"/><line x1="336.8" y1="103.56" x2="349.08" y2="101.48" stroke="#4a9ba0" stroke-width="2.2"/><line x1="349.08" y1="101.48" x2="359.13" y2="99.78" stroke="#dc7676" stroke-width="2.2"/><line x1="336.8" y1="103.56" x2="325.6" y2="102.08" stroke="#4a9ba0" stroke-width="2.2"/><line x1="325.6" y1="102.08" x2="316.44" y2="100.87" stroke="#dc7676" stroke-width="2.2"/><line x1="336.8" y1="103.56" x2="331.29" y2="113.54" stroke="#4a9ba0" stroke-width="2.2"/><line x1="331.29" y1="113.54" x2="326.79" y2="121.71" stroke="#dc7676" stroke-width="2.2"/><line x1="336.8" y1="103.56" x2="343.5" y2="113.32" stroke="#4a9ba0" stroke-width="2.2"/><line x1="343.5" y1="113.32" x2="348.98" y2="121.31" stroke="#dc7676" stroke-width="2.2"/><line x1="401.25" y1="103.56" x2="407.96" y2="90.88" stroke="#4a9ba0" stroke-width="2.2"/><line x1="407.96" y1="90.88" x2="413.45" y2="80.5" stroke="#dc7676" stroke-width="2.2"/><line x1="401.25" y1="103.56" x2="396.58" y2="90.88" stroke="#4a9ba0" stroke-width="2.2"/><line x1="396.58" y1="90.88" x2="392.76" y2="80.5" stroke="#dc7676" stroke-width="2.2"/><line x1="401.25" y1="103.56" x2="413.53" y2="101.48" stroke="#4a9ba0" stroke-width="2.2"/><line x1="413.53" y1="101.48" x2="423.58" y2="99.78" stroke="#dc7676" stroke-width="2.2"/><line x1="401.25" y1="103.56" x2="390.05" y2="102.08" stroke="#4a9ba0" stroke-width="2.2"/><line x1="390.05" y1="102.08" x2="380.89" y2="100.87" stroke="#dc7676" stroke-width="2.2"/><line x1="401.25" y1="103.56" x2="395.74" y2="113.54" stroke="#4a9ba0" stroke-width="2.2"/><line x1="395.74" y1="113.54" x2="391.24" y2="121.71" stroke="#dc7676" stroke-width="2.2"/><line x1="401.25" y1="103.56" x2="407.95" y2="113.32" stroke="#4a9ba0" stroke-width="2.2"/><line x1="407.95" y1="113.32" x2="413.43" y2="121.31" stroke="#dc7676" stroke-width="2.2"/><line x1="272.21" y1="57.02" x2="279" y2="69.93" stroke="#4a9ba0" stroke-width="2.2"/><line x1="279" y1="69.93" x2="284.55" y2="80.5" stroke="#dc7676" stroke-width="2.2"/><line x1="272.21" y1="57.02" x2="266.94" y2="46.98" stroke="#4a9ba0" stroke-width="2.2"/><line x1="266.94" y1="46.98" x2="262.63" y2="38.78" stroke="#dc7676" stroke-width="2.2"/><line x1="272.21" y1="57.02" x2="278.91" y2="47.59" stroke="#4a9ba0" stroke-width="2.2"/><line x1="278.91" y1="47.59" x2="284.39" y2="39.87" stroke="#dc7676" stroke-width="2.2"/><line x1="272.21" y1="57.02" x2="284.6" y2="59.05" stroke="#4a9ba0" stroke-width="2.2"/><line x1="284.6" y1="59.05" x2="294.74" y2="60.71" stroke="#dc7676" stroke-width="2.2"/><line x1="336.66" y1="57.02" x2="343.45" y2="69.93" stroke="#4a9ba0" stroke-width="2.2"/><line x1="343.45" y1="69.93" x2="349" y2="80.5" stroke="#dc7676" stroke-width="2.2"/><line x1="336.66" y1="57.02" x2="332.07" y2="69.93" stroke="#4a9ba0" stroke-width="2.2"/><line x1="332.07" y1="69.93" x2="328.31" y2="80.5" stroke="#dc7676" stroke-width="2.2"/><line x1="336.66" y1="57.02" x2="331.39" y2="46.98" stroke="#4a9ba0" stroke-width="2.2"/><line x1="331.39" y1="46.98" x2="327.08" y2="38.78" stroke="#dc7676" stroke-width="2.2"/><line x1="336.66" y1="57.02" x2="343.36" y2="47.59" stroke="#4a9ba0" stroke-width="2.2"/><line x1="343.36" y1="47.59" x2="348.84" y2="39.87" stroke="#dc7676" stroke-width="2.2"/><line x1="336.66" y1="57.02" x2="349.05" y2="59.05" stroke="#4a9ba0" stroke-width="2.2"/><line x1="349.05" y1="59.05" x2="359.19" y2="60.71" stroke="#dc7676" stroke-width="2.2"/><line x1="336.66" y1="57.02" x2="325.81" y2="58.83" stroke="#4a9ba0" stroke-width="2.2"/><line x1="325.81" y1="58.83" x2="316.93" y2="60.31" stroke="#dc7676" stroke-width="2.2"/><line x1="401.11" y1="57.02" x2="407.9" y2="69.93" stroke="#4a9ba0" stroke-width="2.2"/><line x1="407.9" y1="69.93" x2="413.45" y2="80.5" stroke="#dc7676" stroke-width="2.2"/><line x1="401.11" y1="57.02" x2="396.52" y2="69.93" stroke="#4a9ba0" stroke-width="2.2"/><line x1="396.52" y1="69.93" x2="392.76" y2="80.5" stroke="#dc7676" stroke-width="2.2"/><line x1="401.11" y1="57.02" x2="395.84" y2="46.98" stroke="#4a9ba0" stroke-width="2.2"/><line x1="395.84" y1="46.98" x2="391.53" y2="38.78" stroke="#dc7676" stroke-width="2.2"/><line x1="401.11" y1="57.02" x2="390.26" y2="58.83" stroke="#4a9ba0" stroke-width="2.2"/><line x1="390.26" y1="58.83" x2="381.38" y2="60.31" stroke="#dc7676" stroke-width="2.2"/><line x1="304.26" y1="118.02" x2="311.05" y2="130.93" stroke="#4a9ba0" stroke-width="2.2"/><line x1="311.05" y1="130.93" x2="316.6" y2="141.5" stroke="#dc7676" stroke-width="2.2"/><line x1="304.26" y1="118.02" x2="298.99" y2="107.98" stroke="#4a9ba0" stroke-width="2.2"/><line x1="298.99" y1="107.98" x2="294.68" y2="99.78" stroke="#dc7676" stroke-width="2.2"/><line x1="304.26" y1="118.02" x2="310.96" y2="108.59" stroke="#4a9ba0" stroke-width="2.2"/><line x1="310.96" y1="108.59" x2="316.44" y2="100.87" stroke="#dc7676" stroke-width="2.2"/><line x1="304.26" y1="118.02" x2="316.65" y2="120.05" stroke="#4a9ba0" stroke-width="2.2"/><line x1="316.65" y1="120.05" x2="326.79" y2="121.71" stroke="#dc7676" stroke-width="2.2"/><line x1="368.71" y1="118.02" x2="375.5" y2="130.93" stroke="#4a9ba0" stroke-width="2.2"/><line x1="375.5" y1="130.93" x2="381.05" y2="141.5" stroke="#dc7676" stroke-width="2.2"/><line x1="368.71" y1="118.02" x2="364.12" y2="130.93" stroke="#4a9ba0" stroke-width="2.2"/><line x1="364.12" y1="130.93" x2="360.36" y2="141.5" stroke="#dc7676" stroke-width="2.2"/><line x1="368.71" y1="118.02" x2="363.44" y2="107.98" stroke="#4a9ba0" stroke-width="2.2"/><line x1="363.44" y1="107.98" x2="359.13" y2="99.78" stroke="#dc7676" stroke-width="2.2"/><line x1="368.71" y1="118.02" x2="375.41" y2="108.59" stroke="#4a9ba0" stroke-width="2.2"/><line x1="375.41" y1="108.59" x2="380.89" y2="100.87" stroke="#dc7676" stroke-width="2.2"/><line x1="368.71" y1="118.02" x2="381.1" y2="120.05" stroke="#4a9ba0" stroke-width="2.2"/><line x1="381.1" y1="120.05" x2="391.24" y2="121.71" stroke="#dc7676" stroke-width="2.2"/><line x1="368.71" y1="118.02" x2="357.86" y2="119.83" stroke="#4a9ba0" stroke-width="2.2"/><line x1="357.86" y1="119.83" x2="348.98" y2="121.31" stroke="#dc7676" stroke-width="2.2"/><line x1="433.16" y1="118.02" x2="439.95" y2="130.93" stroke="#4a9ba0" stroke-width="2.2"/><line x1="439.95" y1="130.93" x2="445.5" y2="141.5" stroke="#dc7676" stroke-width="2.2"/><line x1="433.16" y1="118.02" x2="428.57" y2="130.93" stroke="#4a9ba0" stroke-width="2.2"/><line x1="428.57" y1="130.93" x2="424.81" y2="141.5" stroke="#dc7676" stroke-width="2.2"/><line x1="433.16" y1="118.02" x2="427.89" y2="107.98" stroke="#4a9ba0" stroke-width="2.2"/><line x1="427.89" y1="107.98" x2="423.58" y2="99.78" stroke="#dc7676" stroke-width="2.2"/><line x1="433.16" y1="118.02" x2="422.31" y2="119.83" stroke="#4a9ba0" stroke-width="2.2"/><line x1="422.31" y1="119.83" x2="413.43" y2="121.31" stroke="#dc7676" stroke-width="2.2"/></g><ellipse cx="252.5" cy="19.5" rx="4.9" ry="5.34" fill="url(#gS)"/><ellipse cx="316.95" cy="19.5" rx="4.9" ry="5.34" fill="url(#gS)"/><ellipse cx="381.4" cy="19.5" rx="4.9" ry="5.34" fill="url(#gS)"/><ellipse cx="284.55" cy="80.5" rx="4.9" ry="5.34" fill="url(#gS)"/><ellipse cx="349" cy="80.5" rx="4.9" ry="5.34" fill="url(#gS)"/><ellipse cx="413.45" cy="80.5" rx="4.9" ry="5.34" fill="url(#gS)"/><ellipse cx="316.6" cy="141.5" rx="4.9" ry="5.34" fill="url(#gS)"/><ellipse cx="381.05" cy="141.5" rx="4.9" ry="5.34" fill="url(#gS)"/><ellipse cx="445.5" cy="141.5" rx="4.9" ry="5.34" fill="url(#gS)"/><ellipse cx="296.26" cy="19.5" rx="4.9" ry="5.34" fill="url(#gS)"/><ellipse cx="360.71" cy="19.5" rx="4.9" ry="5.34" fill="url(#gS)"/><ellipse cx="328.31" cy="80.5" rx="4.9" ry="5.34" fill="url(#gS)"/><ellipse cx="392.76" cy="80.5" rx="4.9" ry="5.34" fill="url(#gS)"/><ellipse cx="360.36" cy="141.5" rx="4.9" ry="5.34" fill="url(#gS)"/><ellipse cx="424.81" cy="141.5" rx="4.9" ry="5.34" fill="url(#gS)"/><ellipse cx="262.63" cy="38.78" rx="4.9" ry="5.34" fill="url(#gS)"/><ellipse cx="327.08" cy="38.78" rx="4.9" ry="5.34" fill="url(#gS)"/><ellipse cx="391.53" cy="38.78" rx="4.9" ry="5.34" fill="url(#gS)"/><ellipse cx="294.68" cy="99.78" rx="4.9" ry="5.34" fill="url(#gS)"/><ellipse cx="359.13" cy="99.78" rx="4.9" ry="5.34" fill="url(#gS)"/><ellipse cx="423.58" cy="99.78" rx="4.9" ry="5.34" fill="url(#gS)"/><ellipse cx="284.39" cy="39.87" rx="4.9" ry="5.34" fill="url(#gS)"/><ellipse cx="348.84" cy="39.87" rx="4.9" ry="5.34" fill="url(#gS)"/><ellipse cx="316.44" cy="100.87" rx="4.9" ry="5.34" fill="url(#gS)"/><ellipse cx="380.89" cy="100.87" rx="4.9" ry="5.34" fill="url(#gS)"/><ellipse cx="294.74" cy="60.71" rx="4.9" ry="5.34" fill="url(#gS)"/><ellipse cx="359.19" cy="60.71" rx="4.9" ry="5.34" fill="url(#gS)"/><ellipse cx="326.79" cy="121.71" rx="4.9" ry="5.34" fill="url(#gS)"/><ellipse cx="391.24" cy="121.71" rx="4.9" ry="5.34" fill="url(#gS)"/><ellipse cx="316.93" cy="60.31" rx="4.9" ry="5.34" fill="url(#gS)"/><ellipse cx="381.38" cy="60.31" rx="4.9" ry="5.34" fill="url(#gS)"/><ellipse cx="348.98" cy="121.31" rx="4.9" ry="5.34" fill="url(#gS)"/><ellipse cx="413.43" cy="121.31" rx="4.9" ry="5.34" fill="url(#gS)"/><ellipse cx="276.77" cy="19.5" rx="6.8" ry="7.41" fill="url(#gMo)"/><ellipse cx="341.22" cy="19.5" rx="6.8" ry="7.41" fill="url(#gMo)"/><ellipse cx="308.82" cy="80.5" rx="6.8" ry="7.41" fill="url(#gMo)"/><ellipse cx="373.27" cy="80.5" rx="6.8" ry="7.41" fill="url(#gMo)"/><ellipse cx="340.87" cy="141.5" rx="6.8" ry="7.41" fill="url(#gMo)"/><ellipse cx="405.32" cy="141.5" rx="6.8" ry="7.41" fill="url(#gMo)"/><ellipse cx="304.75" cy="42.56" rx="6.8" ry="7.41" fill="url(#gMo)"/><ellipse cx="369.2" cy="42.56" rx="6.8" ry="7.41" fill="url(#gMo)"/><ellipse cx="336.8" cy="103.56" rx="6.8" ry="7.41" fill="url(#gMo)"/><ellipse cx="401.25" cy="103.56" rx="6.8" ry="7.41" fill="url(#gMo)"/><ellipse cx="272.21" cy="57.02" rx="6.8" ry="7.41" fill="url(#gMo)"/><ellipse cx="336.66" cy="57.02" rx="6.8" ry="7.41" fill="url(#gMo)"/><ellipse cx="401.11" cy="57.02" rx="6.8" ry="7.41" fill="url(#gMo)"/><ellipse cx="304.26" cy="118.02" rx="6.8" ry="7.41" fill="url(#gMo)"/><ellipse cx="368.71" cy="118.02" rx="6.8" ry="7.41" fill="url(#gMo)"/><ellipse cx="433.16" cy="118.02" rx="6.8" ry="7.41" fill="url(#gMo)"/><polygon points="252.5,19.5 381.4,19.5 445.5,141.5 316.6,141.5" fill="none" stroke="#1a1a1a" stroke-width="0.5" opacity="0.8"/><ellipse cx="375.4" cy="37.6" rx="3" ry="2.4" fill="url(#gC)" opacity="0.8"/><ellipse cx="363.2" cy="44.8" rx="3" ry="2.4" fill="url(#gC)" opacity="0.8"/><ellipse cx="374.6" cy="48.4" rx="2.6" ry="2.2" fill="url(#gC)" opacity="0.8"/><ellipse cx="355.1" cy="56.9" rx="2" ry="1.8" fill="url(#gC)" opacity="0.8"/><ellipse cx="343.8" cy="60.6" rx="2.2" ry="1.6" fill="url(#gC)" opacity="0.8"/><ellipse cx="394.4" cy="57.6" rx="2.6" ry="3" fill="url(#gC)" opacity="0.8"/><ellipse cx="281" cy="56.4" rx="1.8" ry="1.4" fill="url(#gC)" opacity="0.8"/><ellipse cx="375.4" cy="123.4" rx="3" ry="2.4" fill="url(#gC)" opacity="0.8"/><ellipse cx="363.2" cy="116.4" rx="3" ry="2.4" fill="url(#gC)" opacity="0.8"/><ellipse cx="374.6" cy="112.6" rx="2.6" ry="2.2" fill="url(#gC)" opacity="0.8"/><ellipse cx="355.1" cy="104" rx="2" ry="1.8" fill="url(#gC)" opacity="0.8"/><ellipse cx="394.4" cy="103.6" rx="2.6" ry="3" fill="url(#gC)" opacity="0.8"/><ellipse cx="364.4" cy="80.6" rx="2.4" ry="3.4" fill="url(#gC)" opacity="0.8"/><ellipse cx="381" cy="80.6" rx="2" ry="3" fill="url(#gC)" opacity="0.8"/><ellipse cx="412" cy="105.6" rx="1.8" ry="1.6" fill="url(#gC)" opacity="0.8"/><ellipse cx="372.6" cy="88.6" rx="3" ry="1.8" fill="url(#gC)" opacity="0.8"/><ellipse cx="372.6" cy="72.8" rx="3" ry="1.8" fill="url(#gC)" opacity="0.8"/><ellipse cx="363.9" cy="52.2" rx="8.2" ry="7.6" fill="url(#gY)" opacity="0.8"/><ellipse cx="376.7" cy="52.6" rx="5.2" ry="5.2" fill="url(#gY)" opacity="0.8"/><ellipse cx="390.2" cy="59.6" rx="5.6" ry="6" fill="url(#gY)" opacity="0.8"/><ellipse cx="344.1" cy="71" rx="5.6" ry="5.6" fill="url(#gY)" opacity="0.8"/><ellipse cx="397.2" cy="70.1" rx="4.3" ry="4.6" fill="url(#gY)" opacity="0.8"/><ellipse cx="372.7" cy="80.6" rx="6.2" ry="4.8" fill="url(#gY)" opacity="0.8"/><ellipse cx="342.9" cy="89.6" rx="5.6" ry="5.6" fill="url(#gY)" opacity="0.8"/><ellipse cx="396.7" cy="90.9" rx="4.3" ry="4.6" fill="url(#gY)" opacity="0.8"/><ellipse cx="363.9" cy="108.9" rx="8.2" ry="7.6" fill="url(#gY)" opacity="0.8"/><ellipse cx="376.7" cy="108.9" rx="5.2" ry="5.2" fill="url(#gY)" opacity="0.8"/><ellipse cx="390.2" cy="101.9" rx="5.6" ry="6" fill="url(#gY)" opacity="0.8"/><ellipse cx="405.1" cy="106.3" rx="3" ry="3.4" fill="url(#gY)" opacity="0.8"/><ellipse cx="370" cy="37.7" rx="2.6" ry="2.2" fill="url(#gY)" opacity="0.8"/><ellipse cx="370" cy="123.6" rx="2.6" ry="2.2" fill="url(#gY)" opacity="0.8"/><ellipse cx="275.8" cy="55.2" rx="3" ry="3.2" fill="url(#gY)" opacity="0.8"/><rect x="337.6" y="69.2" width="23.6" height="21.4" fill="none" stroke="#111" stroke-width="0.7" stroke-dasharray="2.7 1.7"/></g>
<g id="pd"><g stroke-linecap="butt"><line x1="51.7" y1="213.3" x2="79.4" y2="234.8" stroke="#56a8ad" stroke-width="2.3"/><line x1="51.7" y1="213.3" x2="79.4" y2="234.8" stroke="#d4eded" stroke-width="0.9"/><line x1="51.7" y1="213.3" x2="52" y2="248.7" stroke="#56a8ad" stroke-width="1.9"/><line x1="51.7" y1="213.3" x2="52" y2="248.7" stroke="#c4e6e7" stroke-width="0.7"/><line x1="113.9" y1="213.1" x2="139.4" y2="230.8" stroke="#56a8ad" stroke-width="2.3"/><line x1="113.9" y1="213.1" x2="139.4" y2="230.8" stroke="#d4eded" stroke-width="0.9"/><line x1="113.9" y1="213.1" x2="110" y2="248.7" stroke="#56a8ad" stroke-width="1.9"/><line x1="113.9" y1="213.1" x2="110" y2="248.7" stroke="#c4e6e7" stroke-width="0.7"/><line x1="79.4" y1="234.8" x2="52" y2="248.7" stroke="#5eadb2" stroke-width="3.3"/><line x1="79.4" y1="234.8" x2="52" y2="248.7" stroke="#bfe2e4" stroke-width="1.7"/><line x1="79.4" y1="234.8" x2="110" y2="248.7" stroke="#5eadb2" stroke-width="3.3"/><line x1="79.4" y1="234.8" x2="110" y2="248.7" stroke="#bfe2e4" stroke-width="1.7"/><line x1="79.4" y1="234.8" x2="81.3" y2="267.6" stroke="#56a8ad" stroke-width="1.9"/><line x1="79.4" y1="234.8" x2="81.3" y2="267.6" stroke="#c4e6e7" stroke-width="0.7"/><line x1="139.4" y1="230.8" x2="110" y2="248.7" stroke="#56a8ad" stroke-width="2.3"/><line x1="139.4" y1="230.8" x2="110" y2="248.7" stroke="#d4eded" stroke-width="0.9"/><line x1="52" y1="248.7" x2="81.3" y2="267.6" stroke="#56a8ad" stroke-width="2.3"/><line x1="52" y1="248.7" x2="81.3" y2="267.6" stroke="#d4eded" stroke-width="0.9"/><line x1="110" y1="248.7" x2="81.3" y2="267.6" stroke="#56a8ad" stroke-width="2.3"/><line x1="110" y1="248.7" x2="81.3" y2="267.6" stroke="#d4eded" stroke-width="0.9"/><line x1="143.7" y1="274.9" x2="113.6" y2="291.8" stroke="#5eadb2" stroke-width="3.3"/><line x1="143.7" y1="274.9" x2="113.6" y2="291.8" stroke="#bfe2e4" stroke-width="1.7"/><line x1="143.7" y1="274.9" x2="173.4" y2="292.7" stroke="#5eadb2" stroke-width="3.3"/><line x1="143.7" y1="274.9" x2="173.4" y2="292.7" stroke="#bfe2e4" stroke-width="1.7"/><line x1="143.7" y1="274.9" x2="141.9" y2="307" stroke="#56a8ad" stroke-width="1.9"/><line x1="143.7" y1="274.9" x2="141.9" y2="307" stroke="#c4e6e7" stroke-width="0.7"/><line x1="113.6" y1="291.8" x2="141.9" y2="307" stroke="#5eadb2" stroke-width="3.3"/><line x1="113.6" y1="291.8" x2="141.9" y2="307" stroke="#bfe2e4" stroke-width="1.7"/><line x1="113.6" y1="291.8" x2="115" y2="327.7" stroke="#56a8ad" stroke-width="1.9"/><line x1="113.6" y1="291.8" x2="115" y2="327.7" stroke="#c4e6e7" stroke-width="0.7"/><line x1="173.4" y1="292.7" x2="141.9" y2="307" stroke="#5eadb2" stroke-width="3.3"/><line x1="173.4" y1="292.7" x2="141.9" y2="307" stroke="#bfe2e4" stroke-width="1.7"/><line x1="173.4" y1="292.7" x2="204.1" y2="308.8" stroke="#5eadb2" stroke-width="3.3"/><line x1="173.4" y1="292.7" x2="204.1" y2="308.8" stroke="#bfe2e4" stroke-width="1.7"/><line x1="173.4" y1="292.7" x2="177.8" y2="327.2" stroke="#56a8ad" stroke-width="1.9"/><line x1="173.4" y1="292.7" x2="177.8" y2="327.2" stroke="#c4e6e7" stroke-width="0.7"/><line x1="141.9" y1="307" x2="115" y2="327.7" stroke="#56a8ad" stroke-width="2.3"/><line x1="141.9" y1="307" x2="115" y2="327.7" stroke="#d4eded" stroke-width="0.9"/><line x1="204.1" y1="308.8" x2="177.8" y2="327.2" stroke="#56a8ad" stroke-width="2.3"/><line x1="204.1" y1="308.8" x2="177.8" y2="327.2" stroke="#d4eded" stroke-width="0.9"/><line x1="51.7" y1="213.3" x2="38.23" y2="214.24" stroke="#4a9ba0" stroke-width="2.2"/><line x1="38.23" y1="214.24" x2="27.2" y2="215" stroke="#dc7676" stroke-width="2.2"/><line x1="51.7" y1="213.3" x2="61.99" y2="213.47" stroke="#4a9ba0" stroke-width="2.2"/><line x1="61.99" y1="213.47" x2="70.4" y2="213.6" stroke="#dc7676" stroke-width="2.2"/><line x1="51.7" y1="213.3" x2="43.5" y2="223.59" stroke="#4a9ba0" stroke-width="2.2"/><line x1="43.5" y1="223.59" x2="36.8" y2="232" stroke="#dc7676" stroke-width="2.2"/><line x1="51.7" y1="213.3" x2="55.55" y2="224.19" stroke="#4a9ba0" stroke-width="2.2"/><line x1="55.55" y1="224.19" x2="58.7" y2="233.1" stroke="#dc7676" stroke-width="2.2"/><line x1="113.9" y1="213.1" x2="101.14" y2="213.38" stroke="#4a9ba0" stroke-width="2.2"/><line x1="101.14" y1="213.38" x2="90.7" y2="213.6" stroke="#dc7676" stroke-width="2.2"/><line x1="113.9" y1="213.1" x2="124.08" y2="212.94" stroke="#4a9ba0" stroke-width="2.2"/><line x1="124.08" y1="212.94" x2="132.4" y2="212.8" stroke="#dc7676" stroke-width="2.2"/><line x1="113.9" y1="213.1" x2="106.64" y2="223.5" stroke="#4a9ba0" stroke-width="2.2"/><line x1="106.64" y1="223.5" x2="100.7" y2="232" stroke="#dc7676" stroke-width="2.2"/><line x1="113.9" y1="213.1" x2="118.69" y2="223.6" stroke="#4a9ba0" stroke-width="2.2"/><line x1="118.69" y1="223.6" x2="122.6" y2="232.2" stroke="#dc7676" stroke-width="2.2"/><line x1="79.4" y1="234.8" x2="74.45" y2="223.14" stroke="#4a9ba0" stroke-width="2.2"/><line x1="74.45" y1="223.14" x2="70.4" y2="213.6" stroke="#dc7676" stroke-width="2.2"/><line x1="79.4" y1="234.8" x2="85.62" y2="223.14" stroke="#4a9ba0" stroke-width="2.2"/><line x1="85.62" y1="223.14" x2="90.7" y2="213.6" stroke="#dc7676" stroke-width="2.2"/><line x1="79.4" y1="234.8" x2="68.02" y2="233.87" stroke="#4a9ba0" stroke-width="2.2"/><line x1="68.02" y1="233.87" x2="58.7" y2="233.1" stroke="#dc7676" stroke-width="2.2"/><line x1="79.4" y1="234.8" x2="91.12" y2="233.26" stroke="#4a9ba0" stroke-width="2.2"/><line x1="91.12" y1="233.26" x2="100.7" y2="232" stroke="#dc7676" stroke-width="2.2"/><line x1="79.4" y1="234.8" x2="74.45" y2="243.88" stroke="#4a9ba0" stroke-width="2.2"/><line x1="74.45" y1="243.88" x2="70.4" y2="251.3" stroke="#dc7676" stroke-width="2.2"/><line x1="79.4" y1="234.8" x2="85.62" y2="243.88" stroke="#4a9ba0" stroke-width="2.2"/><line x1="85.62" y1="243.88" x2="90.7" y2="251.3" stroke="#dc7676" stroke-width="2.2"/><line x1="139.4" y1="230.8" x2="135.55" y2="220.9" stroke="#4a9ba0" stroke-width="2.2"/><line x1="135.55" y1="220.9" x2="132.4" y2="212.8" stroke="#dc7676" stroke-width="2.2"/><line x1="139.4" y1="230.8" x2="147.32" y2="222.11" stroke="#4a9ba0" stroke-width="2.2"/><line x1="147.32" y1="222.11" x2="153.8" y2="215" stroke="#dc7676" stroke-width="2.2"/><line x1="139.4" y1="230.8" x2="130.16" y2="231.57" stroke="#4a9ba0" stroke-width="2.2"/><line x1="130.16" y1="231.57" x2="122.6" y2="232.2" stroke="#dc7676" stroke-width="2.2"/><line x1="139.4" y1="230.8" x2="152.82" y2="231.46" stroke="#4a9ba0" stroke-width="2.2"/><line x1="152.82" y1="231.46" x2="163.8" y2="232" stroke="#dc7676" stroke-width="2.2"/><line x1="139.4" y1="230.8" x2="135.88" y2="242.19" stroke="#4a9ba0" stroke-width="2.2"/><line x1="135.88" y1="242.19" x2="133" y2="251.5" stroke="#dc7676" stroke-width="2.2"/><line x1="52" y1="248.7" x2="43.64" y2="239.51" stroke="#4a9ba0" stroke-width="2.2"/><line x1="43.64" y1="239.51" x2="36.8" y2="232" stroke="#dc7676" stroke-width="2.2"/><line x1="52" y1="248.7" x2="55.69" y2="240.12" stroke="#4a9ba0" stroke-width="2.2"/><line x1="55.69" y1="240.12" x2="58.7" y2="233.1" stroke="#dc7676" stroke-width="2.2"/><line x1="52" y1="248.7" x2="62.12" y2="250.13" stroke="#4a9ba0" stroke-width="2.2"/><line x1="62.12" y1="250.13" x2="70.4" y2="251.3" stroke="#dc7676" stroke-width="2.2"/><line x1="52" y1="248.7" x2="54.97" y2="259.87" stroke="#4a9ba0" stroke-width="2.2"/><line x1="54.97" y1="259.87" x2="57.4" y2="269" stroke="#dc7676" stroke-width="2.2"/><line x1="110" y1="248.7" x2="104.89" y2="239.51" stroke="#4a9ba0" stroke-width="2.2"/><line x1="104.89" y1="239.51" x2="100.7" y2="232" stroke="#dc7676" stroke-width="2.2"/><line x1="110" y1="248.7" x2="116.93" y2="239.62" stroke="#4a9ba0" stroke-width="2.2"/><line x1="116.93" y1="239.62" x2="122.6" y2="232.2" stroke="#dc7676" stroke-width="2.2"/><line x1="110" y1="248.7" x2="99.39" y2="250.13" stroke="#4a9ba0" stroke-width="2.2"/><line x1="99.39" y1="250.13" x2="90.7" y2="251.3" stroke="#dc7676" stroke-width="2.2"/><line x1="110" y1="248.7" x2="122.65" y2="250.24" stroke="#4a9ba0" stroke-width="2.2"/><line x1="122.65" y1="250.24" x2="133" y2="251.5" stroke="#dc7676" stroke-width="2.2"/><line x1="110" y1="248.7" x2="105.38" y2="260.14" stroke="#4a9ba0" stroke-width="2.2"/><line x1="105.38" y1="260.14" x2="101.6" y2="269.5" stroke="#dc7676" stroke-width="2.2"/><line x1="110" y1="248.7" x2="117.15" y2="260.42" stroke="#4a9ba0" stroke-width="2.2"/><line x1="117.15" y1="260.42" x2="123" y2="270" stroke="#dc7676" stroke-width="2.2"/><line x1="178.9" y1="248.9" x2="170.59" y2="239.6" stroke="#4a9ba0" stroke-width="2.2"/><line x1="170.59" y1="239.6" x2="163.8" y2="232" stroke="#dc7676" stroke-width="2.2"/><line x1="178.9" y1="248.9" x2="172.63" y2="260.5" stroke="#4a9ba0" stroke-width="2.2"/><line x1="172.63" y1="260.5" x2="167.5" y2="270" stroke="#dc7676" stroke-width="2.2"/><line x1="178.9" y1="248.9" x2="181.98" y2="260.18" stroke="#4a9ba0" stroke-width="2.2"/><line x1="181.98" y1="260.18" x2="184.5" y2="269.4" stroke="#dc7676" stroke-width="2.2"/><line x1="81.3" y1="267.6" x2="75.31" y2="258.63" stroke="#4a9ba0" stroke-width="2.2"/><line x1="75.31" y1="258.63" x2="70.4" y2="251.3" stroke="#dc7676" stroke-width="2.2"/><line x1="81.3" y1="267.6" x2="86.47" y2="258.63" stroke="#4a9ba0" stroke-width="2.2"/><line x1="86.47" y1="258.63" x2="90.7" y2="251.3" stroke="#dc7676" stroke-width="2.2"/><line x1="81.3" y1="267.6" x2="68.16" y2="268.37" stroke="#4a9ba0" stroke-width="2.2"/><line x1="68.16" y1="268.37" x2="57.4" y2="269" stroke="#dc7676" stroke-width="2.2"/><line x1="81.3" y1="267.6" x2="92.47" y2="268.64" stroke="#4a9ba0" stroke-width="2.2"/><line x1="92.47" y1="268.64" x2="101.6" y2="269.5" stroke="#dc7676" stroke-width="2.2"/><line x1="81.3" y1="267.6" x2="74.48" y2="279.37" stroke="#4a9ba0" stroke-width="2.2"/><line x1="74.48" y1="279.37" x2="68.9" y2="289" stroke="#dc7676" stroke-width="2.2"/><line x1="81.3" y1="267.6" x2="86.41" y2="279.65" stroke="#4a9ba0" stroke-width="2.2"/><line x1="86.41" y1="279.65" x2="90.6" y2="289.5" stroke="#dc7676" stroke-width="2.2"/><line x1="143.7" y1="274.9" x2="137.81" y2="262.03" stroke="#4a9ba0" stroke-width="2.2"/><line x1="137.81" y1="262.03" x2="133" y2="251.5" stroke="#dc7676" stroke-width="2.2"/><line x1="143.7" y1="274.9" x2="132.31" y2="272.2" stroke="#4a9ba0" stroke-width="2.2"/><line x1="132.31" y1="272.2" x2="123" y2="270" stroke="#dc7676" stroke-width="2.2"/><line x1="143.7" y1="274.9" x2="156.79" y2="272.2" stroke="#4a9ba0" stroke-width="2.2"/><line x1="156.79" y1="272.2" x2="167.5" y2="270" stroke="#dc7676" stroke-width="2.2"/><line x1="143.7" y1="274.9" x2="138.37" y2="282.93" stroke="#4a9ba0" stroke-width="2.2"/><line x1="138.37" y1="282.93" x2="134" y2="289.5" stroke="#dc7676" stroke-width="2.2"/><line x1="143.7" y1="274.9" x2="150.47" y2="282.93" stroke="#4a9ba0" stroke-width="2.2"/><line x1="150.47" y1="282.93" x2="156" y2="289.5" stroke="#dc7676" stroke-width="2.2"/><line x1="113.6" y1="291.8" x2="107" y2="279.54" stroke="#4a9ba0" stroke-width="2.2"/><line x1="107" y1="279.54" x2="101.6" y2="269.5" stroke="#dc7676" stroke-width="2.2"/><line x1="113.6" y1="291.8" x2="118.77" y2="279.81" stroke="#4a9ba0" stroke-width="2.2"/><line x1="118.77" y1="279.81" x2="123" y2="270" stroke="#dc7676" stroke-width="2.2"/><line x1="113.6" y1="291.8" x2="100.95" y2="290.54" stroke="#4a9ba0" stroke-width="2.2"/><line x1="100.95" y1="290.54" x2="90.6" y2="289.5" stroke="#dc7676" stroke-width="2.2"/><line x1="113.6" y1="291.8" x2="124.82" y2="290.54" stroke="#4a9ba0" stroke-width="2.2"/><line x1="124.82" y1="290.54" x2="134" y2="289.5" stroke="#dc7676" stroke-width="2.2"/><line x1="113.6" y1="291.8" x2="106.72" y2="301.43" stroke="#4a9ba0" stroke-width="2.2"/><line x1="106.72" y1="301.43" x2="101.1" y2="309.3" stroke="#dc7676" stroke-width="2.2"/><line x1="113.6" y1="291.8" x2="118.55" y2="301.15" stroke="#4a9ba0" stroke-width="2.2"/><line x1="118.55" y1="301.15" x2="122.6" y2="308.8" stroke="#dc7676" stroke-width="2.2"/><line x1="173.4" y1="292.7" x2="170.16" y2="280.21" stroke="#4a9ba0" stroke-width="2.2"/><line x1="170.16" y1="280.21" x2="167.5" y2="270" stroke="#dc7676" stroke-width="2.2"/><line x1="173.4" y1="292.7" x2="179.5" y2="279.88" stroke="#4a9ba0" stroke-width="2.2"/><line x1="179.5" y1="279.88" x2="184.5" y2="269.4" stroke="#dc7676" stroke-width="2.2"/><line x1="173.4" y1="292.7" x2="163.83" y2="290.94" stroke="#4a9ba0" stroke-width="2.2"/><line x1="163.83" y1="290.94" x2="156" y2="289.5" stroke="#dc7676" stroke-width="2.2"/><line x1="173.4" y1="292.7" x2="185.72" y2="290.77" stroke="#4a9ba0" stroke-width="2.2"/><line x1="185.72" y1="290.77" x2="195.8" y2="289.2" stroke="#dc7676" stroke-width="2.2"/><line x1="173.4" y1="292.7" x2="168.23" y2="302.05" stroke="#4a9ba0" stroke-width="2.2"/><line x1="168.23" y1="302.05" x2="164" y2="309.7" stroke="#dc7676" stroke-width="2.2"/><line x1="173.4" y1="292.7" x2="179.95" y2="301.56" stroke="#4a9ba0" stroke-width="2.2"/><line x1="179.95" y1="301.56" x2="185.3" y2="308.8" stroke="#dc7676" stroke-width="2.2"/><line x1="76.6" y1="308.8" x2="72.36" y2="297.91" stroke="#4a9ba0" stroke-width="2.2"/><line x1="72.36" y1="297.91" x2="68.9" y2="289" stroke="#dc7676" stroke-width="2.2"/><line x1="76.6" y1="308.8" x2="84.3" y2="298.19" stroke="#4a9ba0" stroke-width="2.2"/><line x1="84.3" y1="298.19" x2="90.6" y2="289.5" stroke="#dc7676" stroke-width="2.2"/><line x1="76.6" y1="308.8" x2="90.07" y2="309.07" stroke="#4a9ba0" stroke-width="2.2"/><line x1="90.07" y1="309.07" x2="101.1" y2="309.3" stroke="#dc7676" stroke-width="2.2"/><line x1="76.6" y1="308.8" x2="84.36" y2="320.35" stroke="#4a9ba0" stroke-width="2.2"/><line x1="84.36" y1="320.35" x2="90.7" y2="329.8" stroke="#dc7676" stroke-width="2.2"/><line x1="141.9" y1="307" x2="137.56" y2="297.38" stroke="#4a9ba0" stroke-width="2.2"/><line x1="137.56" y1="297.38" x2="134" y2="289.5" stroke="#dc7676" stroke-width="2.2"/><line x1="141.9" y1="307" x2="149.66" y2="297.38" stroke="#4a9ba0" stroke-width="2.2"/><line x1="149.66" y1="297.38" x2="156" y2="289.5" stroke="#dc7676" stroke-width="2.2"/><line x1="141.9" y1="307" x2="131.28" y2="307.99" stroke="#4a9ba0" stroke-width="2.2"/><line x1="131.28" y1="307.99" x2="122.6" y2="308.8" stroke="#dc7676" stroke-width="2.2"/><line x1="141.9" y1="307" x2="154.06" y2="308.49" stroke="#4a9ba0" stroke-width="2.2"/><line x1="154.06" y1="308.49" x2="164" y2="309.7" stroke="#dc7676" stroke-width="2.2"/><line x1="141.9" y1="307" x2="137.39" y2="318.38" stroke="#4a9ba0" stroke-width="2.2"/><line x1="137.39" y1="318.38" x2="133.7" y2="327.7" stroke="#dc7676" stroke-width="2.2"/><line x1="141.9" y1="307" x2="148.45" y2="318.38" stroke="#4a9ba0" stroke-width="2.2"/><line x1="148.45" y1="318.38" x2="153.8" y2="327.7" stroke="#dc7676" stroke-width="2.2"/><line x1="204.1" y1="308.8" x2="199.53" y2="298.02" stroke="#4a9ba0" stroke-width="2.2"/><line x1="199.53" y1="298.02" x2="195.8" y2="289.2" stroke="#dc7676" stroke-width="2.2"/><line x1="204.1" y1="308.8" x2="193.76" y2="308.8" stroke="#4a9ba0" stroke-width="2.2"/><line x1="193.76" y1="308.8" x2="185.3" y2="308.8" stroke="#dc7676" stroke-width="2.2"/><line x1="204.1" y1="308.8" x2="199.53" y2="318.92" stroke="#4a9ba0" stroke-width="2.2"/><line x1="199.53" y1="318.92" x2="195.8" y2="327.2" stroke="#dc7676" stroke-width="2.2"/><line x1="204.1" y1="308.8" x2="211.41" y2="320.19" stroke="#4a9ba0" stroke-width="2.2"/><line x1="211.41" y1="320.19" x2="217.4" y2="329.5" stroke="#dc7676" stroke-width="2.2"/><line x1="115" y1="327.7" x2="107.35" y2="317.58" stroke="#4a9ba0" stroke-width="2.2"/><line x1="107.35" y1="317.58" x2="101.1" y2="309.3" stroke="#dc7676" stroke-width="2.2"/><line x1="115" y1="327.7" x2="119.18" y2="317.31" stroke="#4a9ba0" stroke-width="2.2"/><line x1="119.18" y1="317.31" x2="122.6" y2="308.8" stroke="#dc7676" stroke-width="2.2"/><line x1="115" y1="327.7" x2="101.64" y2="328.86" stroke="#4a9ba0" stroke-width="2.2"/><line x1="101.64" y1="328.86" x2="90.7" y2="329.8" stroke="#dc7676" stroke-width="2.2"/><line x1="115" y1="327.7" x2="125.28" y2="327.7" stroke="#4a9ba0" stroke-width="2.2"/><line x1="125.28" y1="327.7" x2="133.7" y2="327.7" stroke="#dc7676" stroke-width="2.2"/><line x1="177.8" y1="327.2" x2="170.21" y2="317.57" stroke="#4a9ba0" stroke-width="2.2"/><line x1="170.21" y1="317.57" x2="164" y2="309.7" stroke="#dc7676" stroke-width="2.2"/><line x1="177.8" y1="327.2" x2="181.93" y2="317.08" stroke="#4a9ba0" stroke-width="2.2"/><line x1="181.93" y1="317.08" x2="185.3" y2="308.8" stroke="#dc7676" stroke-width="2.2"/><line x1="177.8" y1="327.2" x2="164.6" y2="327.47" stroke="#4a9ba0" stroke-width="2.2"/><line x1="164.6" y1="327.47" x2="153.8" y2="327.7" stroke="#dc7676" stroke-width="2.2"/><line x1="177.8" y1="327.2" x2="187.7" y2="327.2" stroke="#4a9ba0" stroke-width="2.2"/><line x1="187.7" y1="327.2" x2="195.8" y2="327.2" stroke="#dc7676" stroke-width="2.2"/></g><ellipse cx="27.2" cy="215" rx="4.9" ry="5.05" fill="url(#gS)"/><ellipse cx="70.4" cy="213.6" rx="4.9" ry="5.05" fill="url(#gS)"/><ellipse cx="90.7" cy="213.6" rx="4.9" ry="5.05" fill="url(#gS)"/><ellipse cx="132.4" cy="212.8" rx="4.9" ry="5.05" fill="url(#gS)"/><ellipse cx="153.8" cy="215" rx="4.9" ry="5.05" fill="url(#gS)"/><ellipse cx="36.8" cy="232" rx="4.9" ry="5.05" fill="url(#gS)"/><ellipse cx="58.7" cy="233.1" rx="4.9" ry="5.05" fill="url(#gS)"/><ellipse cx="100.7" cy="232" rx="4.9" ry="5.05" fill="url(#gS)"/><ellipse cx="122.6" cy="232.2" rx="4.9" ry="5.05" fill="url(#gS)"/><ellipse cx="163.8" cy="232" rx="4.9" ry="5.05" fill="url(#gS)"/><ellipse cx="70.4" cy="251.3" rx="4.9" ry="5.05" fill="url(#gS)"/><ellipse cx="90.7" cy="251.3" rx="4.9" ry="5.05" fill="url(#gS)"/><ellipse cx="133" cy="251.5" rx="4.9" ry="5.05" fill="url(#gS)"/><ellipse cx="57.4" cy="269" rx="4.9" ry="5.05" fill="url(#gS)"/><ellipse cx="101.6" cy="269.5" rx="4.9" ry="5.05" fill="url(#gS)"/><ellipse cx="123" cy="270" rx="4.9" ry="5.05" fill="url(#gS)"/><ellipse cx="167.5" cy="270" rx="4.9" ry="5.05" fill="url(#gS)"/><ellipse cx="184.5" cy="269.4" rx="4.9" ry="5.05" fill="url(#gS)"/><ellipse cx="68.9" cy="289" rx="4.9" ry="5.05" fill="url(#gS)"/><ellipse cx="90.6" cy="289.5" rx="4.9" ry="5.05" fill="url(#gS)"/><ellipse cx="134" cy="289.5" rx="4.9" ry="5.05" fill="url(#gS)"/><ellipse cx="156" cy="289.5" rx="4.9" ry="5.05" fill="url(#gS)"/><ellipse cx="195.8" cy="289.2" rx="4.9" ry="5.05" fill="url(#gS)"/><ellipse cx="101.1" cy="309.3" rx="4.9" ry="5.05" fill="url(#gS)"/><ellipse cx="122.6" cy="308.8" rx="4.9" ry="5.05" fill="url(#gS)"/><ellipse cx="164" cy="309.7" rx="4.9" ry="5.05" fill="url(#gS)"/><ellipse cx="185.3" cy="308.8" rx="4.9" ry="5.05" fill="url(#gS)"/><ellipse cx="90.7" cy="329.8" rx="4.9" ry="5.05" fill="url(#gS)"/><ellipse cx="133.7" cy="327.7" rx="4.9" ry="5.05" fill="url(#gS)"/><ellipse cx="153.8" cy="327.7" rx="4.9" ry="5.05" fill="url(#gS)"/><ellipse cx="195.8" cy="327.2" rx="4.9" ry="5.05" fill="url(#gS)"/><ellipse cx="217.4" cy="329.5" rx="4.9" ry="5.05" fill="url(#gS)"/><ellipse cx="51.7" cy="213.3" rx="6.8" ry="7" fill="url(#gMo)"/><ellipse cx="113.9" cy="213.1" rx="6.8" ry="7" fill="url(#gMo)"/><ellipse cx="79.4" cy="234.8" rx="6.8" ry="7" fill="url(#gMo)"/><ellipse cx="139.4" cy="230.8" rx="6.8" ry="7" fill="url(#gMo)"/><ellipse cx="52" cy="248.7" rx="6.8" ry="7" fill="url(#gMo)"/><ellipse cx="110" cy="248.7" rx="6.8" ry="7" fill="url(#gMo)"/><ellipse cx="178.9" cy="248.9" rx="6.8" ry="7" fill="url(#gMo)"/><ellipse cx="81.3" cy="267.6" rx="6.8" ry="7" fill="url(#gMo)"/><ellipse cx="143.7" cy="274.9" rx="6.8" ry="7" fill="url(#gMo)"/><ellipse cx="113.6" cy="291.8" rx="6.8" ry="7" fill="url(#gMo)"/><ellipse cx="173.4" cy="292.7" rx="6.8" ry="7" fill="url(#gMo)"/><ellipse cx="76.6" cy="308.8" rx="6.8" ry="7" fill="url(#gMo)"/><ellipse cx="141.9" cy="307" rx="6.8" ry="7" fill="url(#gMo)"/><ellipse cx="204.1" cy="308.8" rx="6.8" ry="7" fill="url(#gMo)"/><ellipse cx="115" cy="327.7" rx="6.8" ry="7" fill="url(#gMo)"/><ellipse cx="177.8" cy="327.2" rx="6.8" ry="7" fill="url(#gMo)"/><polygon points="28.2,213.5 155.4,213.5 216.9,327.5 89.8,327.5" fill="none" stroke="#1a1a1a" stroke-width="0.5" opacity="0.8"/><circle cx="154.3" cy="249.9" r="8.8" fill="none" stroke="#ff2020" stroke-width="1.25" stroke-dasharray="3.9 3.01" stroke-dashoffset="1.95"/><text x="130.9" y="256.4" font-size="13.1" font-weight="bold" text-anchor="middle" fill="#000600" stroke="#86cf86" stroke-width="1.2" stroke-opacity="0.5" paint-order="stroke" stroke-linejoin="round">S6*</text><text x="154.6" y="255.5" font-size="13.1" font-weight="bold" text-anchor="middle" fill="#000600" stroke="#86cf86" stroke-width="1.2" stroke-opacity="0.5" paint-order="stroke" stroke-linejoin="round">V1</text><text x="121.6" y="273.8" font-size="13.1" font-weight="bold" text-anchor="middle" fill="#000600" stroke="#86cf86" stroke-width="1.2" stroke-opacity="0.5" paint-order="stroke" stroke-linejoin="round">S5*</text><text x="145.2" y="279.2" font-size="13.1" font-weight="bold" text-anchor="middle" fill="#000600" stroke="#86cf86" stroke-width="1.2" stroke-opacity="0.5" paint-order="stroke" stroke-linejoin="round">Mo1</text><text x="171.8" y="273.8" font-size="13.1" font-weight="bold" text-anchor="middle" fill="#000600" stroke="#86cf86" stroke-width="1.2" stroke-opacity="0.5" paint-order="stroke" stroke-linejoin="round">S2*</text><text x="106.2" y="296.6" font-size="13.1" font-weight="bold" text-anchor="middle" fill="#000600" stroke="#86cf86" stroke-width="1.2" stroke-opacity="0.5" paint-order="stroke" stroke-linejoin="round">Mo2</text><text x="138.4" y="294" font-size="13.1" font-weight="bold" text-anchor="middle" fill="#000600" stroke="#86cf86" stroke-width="1.2" stroke-opacity="0.5" paint-order="stroke" stroke-linejoin="round">S4*</text><text x="160" y="294" font-size="13.1" font-weight="bold" text-anchor="middle" fill="#000600" stroke="#86cf86" stroke-width="1.2" stroke-opacity="0.5" paint-order="stroke" stroke-linejoin="round">S3*</text><circle cx="74.8" cy="344.6" r="8.5" fill="none" stroke="#ff2020" stroke-width="1.25" stroke-dasharray="3.7 2.976" stroke-dashoffset="1.85"/><text x="94.4" y="350.8" font-size="13.1" font-weight="bold" text-anchor="start" fill="#000600" stroke="#86cf86" stroke-width="1.2" stroke-opacity="0.5" paint-order="stroke" stroke-linejoin="round">V1 vacancy</text></g>
<g id="pe"><g stroke-linecap="butt"><line x1="282.1" y1="209.72" x2="310.37" y2="232.2" stroke="#56a8ad" stroke-width="2.3"/><line x1="282.1" y1="209.72" x2="310.37" y2="232.2" stroke="#d4eded" stroke-width="0.9"/><line x1="282.1" y1="209.72" x2="282.41" y2="246.73" stroke="#56a8ad" stroke-width="1.9"/><line x1="282.1" y1="209.72" x2="282.41" y2="246.73" stroke="#c4e6e7" stroke-width="0.7"/><line x1="345.58" y1="209.51" x2="371.6" y2="228.02" stroke="#56a8ad" stroke-width="2.3"/><line x1="345.58" y1="209.51" x2="371.6" y2="228.02" stroke="#d4eded" stroke-width="0.9"/><line x1="345.58" y1="209.51" x2="341.6" y2="246.73" stroke="#56a8ad" stroke-width="1.9"/><line x1="345.58" y1="209.51" x2="341.6" y2="246.73" stroke="#c4e6e7" stroke-width="0.7"/><line x1="310.37" y1="232.2" x2="282.41" y2="246.73" stroke="#5eadb2" stroke-width="3.3"/><line x1="310.37" y1="232.2" x2="282.41" y2="246.73" stroke="#bfe2e4" stroke-width="1.7"/><line x1="310.37" y1="232.2" x2="341.6" y2="246.73" stroke="#5eadb2" stroke-width="3.3"/><line x1="310.37" y1="232.2" x2="341.6" y2="246.73" stroke="#bfe2e4" stroke-width="1.7"/><line x1="310.37" y1="232.2" x2="312.31" y2="266.49" stroke="#56a8ad" stroke-width="1.9"/><line x1="310.37" y1="232.2" x2="312.31" y2="266.49" stroke="#c4e6e7" stroke-width="0.7"/><line x1="371.6" y1="228.02" x2="341.6" y2="246.73" stroke="#56a8ad" stroke-width="2.3"/><line x1="371.6" y1="228.02" x2="341.6" y2="246.73" stroke="#d4eded" stroke-width="0.9"/><line x1="282.41" y1="246.73" x2="312.31" y2="266.49" stroke="#56a8ad" stroke-width="2.3"/><line x1="282.41" y1="246.73" x2="312.31" y2="266.49" stroke="#d4eded" stroke-width="0.9"/><line x1="341.6" y1="246.73" x2="312.31" y2="266.49" stroke="#56a8ad" stroke-width="2.3"/><line x1="341.6" y1="246.73" x2="312.31" y2="266.49" stroke="#d4eded" stroke-width="0.9"/><line x1="375.99" y1="274.12" x2="345.27" y2="291.79" stroke="#5eadb2" stroke-width="3.3"/><line x1="375.99" y1="274.12" x2="345.27" y2="291.79" stroke="#bfe2e4" stroke-width="1.7"/><line x1="375.99" y1="274.12" x2="406.3" y2="292.73" stroke="#56a8ad" stroke-width="2.3"/><line x1="375.99" y1="274.12" x2="406.3" y2="292.73" stroke="#d4eded" stroke-width="0.9"/><line x1="375.99" y1="274.12" x2="374.15" y2="307.68" stroke="#56a8ad" stroke-width="1.9"/><line x1="375.99" y1="274.12" x2="374.15" y2="307.68" stroke="#c4e6e7" stroke-width="0.7"/><line x1="345.27" y1="291.79" x2="374.15" y2="307.68" stroke="#5eadb2" stroke-width="3.3"/><line x1="345.27" y1="291.79" x2="374.15" y2="307.68" stroke="#bfe2e4" stroke-width="1.7"/><line x1="345.27" y1="291.79" x2="346.7" y2="329.32" stroke="#56a8ad" stroke-width="1.9"/><line x1="345.27" y1="291.79" x2="346.7" y2="329.32" stroke="#c4e6e7" stroke-width="0.7"/><line x1="406.3" y1="292.73" x2="374.15" y2="307.68" stroke="#5eadb2" stroke-width="3.3"/><line x1="406.3" y1="292.73" x2="374.15" y2="307.68" stroke="#bfe2e4" stroke-width="1.7"/><line x1="406.3" y1="292.73" x2="437.63" y2="309.56" stroke="#5eadb2" stroke-width="3.3"/><line x1="406.3" y1="292.73" x2="437.63" y2="309.56" stroke="#bfe2e4" stroke-width="1.7"/><line x1="406.3" y1="292.73" x2="410.79" y2="328.79" stroke="#56a8ad" stroke-width="1.9"/><line x1="406.3" y1="292.73" x2="410.79" y2="328.79" stroke="#c4e6e7" stroke-width="0.7"/><line x1="374.15" y1="307.68" x2="346.7" y2="329.32" stroke="#56a8ad" stroke-width="2.3"/><line x1="374.15" y1="307.68" x2="346.7" y2="329.32" stroke="#d4eded" stroke-width="0.9"/><line x1="437.63" y1="309.56" x2="410.79" y2="328.79" stroke="#56a8ad" stroke-width="2.3"/><line x1="437.63" y1="309.56" x2="410.79" y2="328.79" stroke="#d4eded" stroke-width="0.9"/><line x1="282.1" y1="209.72" x2="268.35" y2="210.7" stroke="#4a9ba0" stroke-width="2.2"/><line x1="268.35" y1="210.7" x2="257.1" y2="211.5" stroke="#dc7676" stroke-width="2.2"/><line x1="282.1" y1="209.72" x2="292.6" y2="209.9" stroke="#4a9ba0" stroke-width="2.2"/><line x1="292.6" y1="209.9" x2="301.19" y2="210.04" stroke="#dc7676" stroke-width="2.2"/><line x1="282.1" y1="209.72" x2="273.74" y2="220.47" stroke="#4a9ba0" stroke-width="2.2"/><line x1="273.74" y1="220.47" x2="266.9" y2="229.27" stroke="#dc7676" stroke-width="2.2"/><line x1="282.1" y1="209.72" x2="286.03" y2="221.11" stroke="#4a9ba0" stroke-width="2.2"/><line x1="286.03" y1="221.11" x2="289.25" y2="230.42" stroke="#dc7676" stroke-width="2.2"/><line x1="345.58" y1="209.51" x2="332.56" y2="209.8" stroke="#4a9ba0" stroke-width="2.2"/><line x1="332.56" y1="209.8" x2="321.9" y2="210.04" stroke="#dc7676" stroke-width="2.2"/><line x1="345.58" y1="209.51" x2="355.96" y2="209.34" stroke="#4a9ba0" stroke-width="2.2"/><line x1="355.96" y1="209.34" x2="364.46" y2="209.2" stroke="#dc7676" stroke-width="2.2"/><line x1="345.58" y1="209.51" x2="338.17" y2="220.38" stroke="#4a9ba0" stroke-width="2.2"/><line x1="338.17" y1="220.38" x2="332.11" y2="229.27" stroke="#dc7676" stroke-width="2.2"/><line x1="345.58" y1="209.51" x2="350.46" y2="220.5" stroke="#4a9ba0" stroke-width="2.2"/><line x1="350.46" y1="220.5" x2="354.46" y2="229.48" stroke="#dc7676" stroke-width="2.2"/><line x1="310.37" y1="232.2" x2="305.32" y2="220.01" stroke="#4a9ba0" stroke-width="2.2"/><line x1="305.32" y1="220.01" x2="301.19" y2="210.04" stroke="#dc7676" stroke-width="2.2"/><line x1="310.37" y1="232.2" x2="316.71" y2="220.01" stroke="#4a9ba0" stroke-width="2.2"/><line x1="316.71" y1="220.01" x2="321.9" y2="210.04" stroke="#dc7676" stroke-width="2.2"/><line x1="310.37" y1="232.2" x2="298.75" y2="231.22" stroke="#4a9ba0" stroke-width="2.2"/><line x1="298.75" y1="231.22" x2="289.25" y2="230.42" stroke="#dc7676" stroke-width="2.2"/><line x1="310.37" y1="232.2" x2="322.33" y2="230.59" stroke="#4a9ba0" stroke-width="2.2"/><line x1="322.33" y1="230.59" x2="332.11" y2="229.27" stroke="#dc7676" stroke-width="2.2"/><line x1="310.37" y1="232.2" x2="305.32" y2="241.69" stroke="#4a9ba0" stroke-width="2.2"/><line x1="305.32" y1="241.69" x2="301.19" y2="249.45" stroke="#dc7676" stroke-width="2.2"/><line x1="310.37" y1="232.2" x2="316.71" y2="241.69" stroke="#4a9ba0" stroke-width="2.2"/><line x1="316.71" y1="241.69" x2="321.9" y2="249.45" stroke="#dc7676" stroke-width="2.2"/><line x1="371.6" y1="228.02" x2="367.67" y2="217.67" stroke="#4a9ba0" stroke-width="2.2"/><line x1="367.67" y1="217.67" x2="364.46" y2="209.2" stroke="#dc7676" stroke-width="2.2"/><line x1="371.6" y1="228.02" x2="379.68" y2="218.93" stroke="#4a9ba0" stroke-width="2.2"/><line x1="379.68" y1="218.93" x2="386.3" y2="211.5" stroke="#dc7676" stroke-width="2.2"/><line x1="371.6" y1="228.02" x2="362.17" y2="228.82" stroke="#4a9ba0" stroke-width="2.2"/><line x1="362.17" y1="228.82" x2="354.46" y2="229.48" stroke="#dc7676" stroke-width="2.2"/><line x1="371.6" y1="228.02" x2="385.3" y2="228.71" stroke="#4a9ba0" stroke-width="2.2"/><line x1="385.3" y1="228.71" x2="396.5" y2="229.27" stroke="#dc7676" stroke-width="2.2"/><line x1="371.6" y1="228.02" x2="368.01" y2="239.92" stroke="#4a9ba0" stroke-width="2.2"/><line x1="368.01" y1="239.92" x2="365.07" y2="249.66" stroke="#dc7676" stroke-width="2.2"/><line x1="282.41" y1="246.73" x2="273.88" y2="237.13" stroke="#4a9ba0" stroke-width="2.2"/><line x1="273.88" y1="237.13" x2="266.9" y2="229.27" stroke="#dc7676" stroke-width="2.2"/><line x1="282.41" y1="246.73" x2="286.17" y2="237.76" stroke="#4a9ba0" stroke-width="2.2"/><line x1="286.17" y1="237.76" x2="289.25" y2="230.42" stroke="#dc7676" stroke-width="2.2"/><line x1="282.41" y1="246.73" x2="292.74" y2="248.22" stroke="#4a9ba0" stroke-width="2.2"/><line x1="292.74" y1="248.22" x2="301.19" y2="249.45" stroke="#dc7676" stroke-width="2.2"/><line x1="282.41" y1="246.73" x2="285.44" y2="258.4" stroke="#4a9ba0" stroke-width="2.2"/><line x1="285.44" y1="258.4" x2="287.92" y2="267.95" stroke="#dc7676" stroke-width="2.2"/><line x1="341.6" y1="246.73" x2="336.38" y2="237.13" stroke="#4a9ba0" stroke-width="2.2"/><line x1="336.38" y1="237.13" x2="332.11" y2="229.27" stroke="#dc7676" stroke-width="2.2"/><line x1="341.6" y1="246.73" x2="348.67" y2="237.24" stroke="#4a9ba0" stroke-width="2.2"/><line x1="348.67" y1="237.24" x2="354.46" y2="229.48" stroke="#dc7676" stroke-width="2.2"/><line x1="341.6" y1="246.73" x2="330.76" y2="248.22" stroke="#4a9ba0" stroke-width="2.2"/><line x1="330.76" y1="248.22" x2="321.9" y2="249.45" stroke="#dc7676" stroke-width="2.2"/><line x1="341.6" y1="246.73" x2="354.51" y2="248.34" stroke="#4a9ba0" stroke-width="2.2"/><line x1="354.51" y1="248.34" x2="365.07" y2="249.66" stroke="#dc7676" stroke-width="2.2"/><line x1="341.6" y1="246.73" x2="336.88" y2="258.69" stroke="#4a9ba0" stroke-width="2.2"/><line x1="336.88" y1="258.69" x2="333.03" y2="268.47" stroke="#dc7676" stroke-width="2.2"/><line x1="341.6" y1="246.73" x2="348.89" y2="258.98" stroke="#4a9ba0" stroke-width="2.2"/><line x1="348.89" y1="258.98" x2="354.86" y2="269" stroke="#dc7676" stroke-width="2.2"/><line x1="411.91" y1="246.94" x2="403.43" y2="237.22" stroke="#4a9ba0" stroke-width="2.2"/><line x1="403.43" y1="237.22" x2="396.5" y2="229.27" stroke="#dc7676" stroke-width="2.2"/><line x1="411.91" y1="246.94" x2="405.51" y2="259.07" stroke="#4a9ba0" stroke-width="2.2"/><line x1="405.51" y1="259.07" x2="400.28" y2="269" stroke="#dc7676" stroke-width="2.2"/><line x1="411.91" y1="246.94" x2="415.05" y2="258.73" stroke="#4a9ba0" stroke-width="2.2"/><line x1="415.05" y1="258.73" x2="417.62" y2="268.37" stroke="#dc7676" stroke-width="2.2"/><line x1="312.31" y1="266.49" x2="306.19" y2="257.12" stroke="#4a9ba0" stroke-width="2.2"/><line x1="306.19" y1="257.12" x2="301.19" y2="249.45" stroke="#dc7676" stroke-width="2.2"/><line x1="312.31" y1="266.49" x2="317.59" y2="257.12" stroke="#4a9ba0" stroke-width="2.2"/><line x1="317.59" y1="257.12" x2="321.9" y2="249.45" stroke="#dc7676" stroke-width="2.2"/><line x1="312.31" y1="266.49" x2="298.89" y2="267.29" stroke="#4a9ba0" stroke-width="2.2"/><line x1="298.89" y1="267.29" x2="287.92" y2="267.95" stroke="#dc7676" stroke-width="2.2"/><line x1="312.31" y1="266.49" x2="323.7" y2="267.58" stroke="#4a9ba0" stroke-width="2.2"/><line x1="323.7" y1="267.58" x2="333.03" y2="268.47" stroke="#dc7676" stroke-width="2.2"/><line x1="312.31" y1="266.49" x2="305.35" y2="278.79" stroke="#4a9ba0" stroke-width="2.2"/><line x1="305.35" y1="278.79" x2="299.65" y2="288.86" stroke="#dc7676" stroke-width="2.2"/><line x1="312.31" y1="266.49" x2="317.53" y2="279.08" stroke="#4a9ba0" stroke-width="2.2"/><line x1="317.53" y1="279.08" x2="321.8" y2="289.38" stroke="#dc7676" stroke-width="2.2"/><line x1="375.99" y1="274.12" x2="369.98" y2="260.67" stroke="#4a9ba0" stroke-width="2.2"/><line x1="369.98" y1="260.67" x2="365.07" y2="249.66" stroke="#dc7676" stroke-width="2.2"/><line x1="375.99" y1="274.12" x2="364.37" y2="271.3" stroke="#4a9ba0" stroke-width="2.2"/><line x1="364.37" y1="271.3" x2="354.86" y2="269" stroke="#dc7676" stroke-width="2.2"/><line x1="375.99" y1="274.12" x2="389.35" y2="271.3" stroke="#4a9ba0" stroke-width="2.2"/><line x1="389.35" y1="271.3" x2="400.28" y2="269" stroke="#dc7676" stroke-width="2.2"/><line x1="375.99" y1="274.12" x2="370.54" y2="282.51" stroke="#4a9ba0" stroke-width="2.2"/><line x1="370.54" y1="282.51" x2="366.09" y2="289.38" stroke="#dc7676" stroke-width="2.2"/><line x1="375.99" y1="274.12" x2="382.89" y2="282.51" stroke="#4a9ba0" stroke-width="2.2"/><line x1="382.89" y1="282.51" x2="388.54" y2="289.38" stroke="#dc7676" stroke-width="2.2"/><line x1="345.27" y1="291.79" x2="338.54" y2="278.96" stroke="#4a9ba0" stroke-width="2.2"/><line x1="338.54" y1="278.96" x2="333.03" y2="268.47" stroke="#dc7676" stroke-width="2.2"/><line x1="345.27" y1="291.79" x2="350.55" y2="279.25" stroke="#4a9ba0" stroke-width="2.2"/><line x1="350.55" y1="279.25" x2="354.86" y2="269" stroke="#dc7676" stroke-width="2.2"/><line x1="345.27" y1="291.79" x2="332.36" y2="290.46" stroke="#4a9ba0" stroke-width="2.2"/><line x1="332.36" y1="290.46" x2="321.8" y2="289.38" stroke="#dc7676" stroke-width="2.2"/><line x1="345.27" y1="291.79" x2="356.72" y2="290.46" stroke="#4a9ba0" stroke-width="2.2"/><line x1="356.72" y1="290.46" x2="366.09" y2="289.38" stroke="#dc7676" stroke-width="2.2"/><line x1="345.27" y1="291.79" x2="338.26" y2="301.85" stroke="#4a9ba0" stroke-width="2.2"/><line x1="338.26" y1="301.85" x2="332.51" y2="310.08" stroke="#dc7676" stroke-width="2.2"/><line x1="345.27" y1="291.79" x2="350.32" y2="301.56" stroke="#4a9ba0" stroke-width="2.2"/><line x1="350.32" y1="301.56" x2="354.46" y2="309.56" stroke="#dc7676" stroke-width="2.2"/><line x1="406.3" y1="292.73" x2="402.99" y2="279.68" stroke="#4a9ba0" stroke-width="2.2"/><line x1="402.99" y1="279.68" x2="400.28" y2="269" stroke="#dc7676" stroke-width="2.2"/><line x1="406.3" y1="292.73" x2="412.53" y2="279.33" stroke="#4a9ba0" stroke-width="2.2"/><line x1="412.53" y1="279.33" x2="417.62" y2="268.37" stroke="#dc7676" stroke-width="2.2"/><line x1="406.3" y1="292.73" x2="396.53" y2="290.89" stroke="#4a9ba0" stroke-width="2.2"/><line x1="396.53" y1="290.89" x2="388.54" y2="289.38" stroke="#dc7676" stroke-width="2.2"/><line x1="406.3" y1="292.73" x2="418.87" y2="290.72" stroke="#4a9ba0" stroke-width="2.2"/><line x1="418.87" y1="290.72" x2="429.16" y2="289.07" stroke="#dc7676" stroke-width="2.2"/><line x1="406.3" y1="292.73" x2="401.02" y2="302.5" stroke="#4a9ba0" stroke-width="2.2"/><line x1="401.02" y1="302.5" x2="396.7" y2="310.5" stroke="#dc7676" stroke-width="2.2"/><line x1="406.3" y1="292.73" x2="412.98" y2="301.98" stroke="#4a9ba0" stroke-width="2.2"/><line x1="412.98" y1="301.98" x2="418.44" y2="309.56" stroke="#dc7676" stroke-width="2.2"/><line x1="307.51" y1="309.56" x2="303.19" y2="298.17" stroke="#4a9ba0" stroke-width="2.2"/><line x1="303.19" y1="298.17" x2="299.65" y2="288.86" stroke="#dc7676" stroke-width="2.2"/><line x1="307.51" y1="309.56" x2="315.37" y2="298.46" stroke="#4a9ba0" stroke-width="2.2"/><line x1="315.37" y1="298.46" x2="321.8" y2="289.38" stroke="#dc7676" stroke-width="2.2"/><line x1="307.51" y1="309.56" x2="321.26" y2="309.85" stroke="#4a9ba0" stroke-width="2.2"/><line x1="321.26" y1="309.85" x2="332.51" y2="310.08" stroke="#dc7676" stroke-width="2.2"/><line x1="307.51" y1="309.56" x2="315.43" y2="321.63" stroke="#4a9ba0" stroke-width="2.2"/><line x1="315.43" y1="321.63" x2="321.9" y2="331.51" stroke="#dc7676" stroke-width="2.2"/><line x1="374.15" y1="307.68" x2="369.72" y2="297.61" stroke="#4a9ba0" stroke-width="2.2"/><line x1="369.72" y1="297.61" x2="366.09" y2="289.38" stroke="#dc7676" stroke-width="2.2"/><line x1="374.15" y1="307.68" x2="382.07" y2="297.61" stroke="#4a9ba0" stroke-width="2.2"/><line x1="382.07" y1="297.61" x2="388.54" y2="289.38" stroke="#dc7676" stroke-width="2.2"/><line x1="374.15" y1="307.68" x2="363.32" y2="308.71" stroke="#4a9ba0" stroke-width="2.2"/><line x1="363.32" y1="308.71" x2="354.46" y2="309.56" stroke="#dc7676" stroke-width="2.2"/><line x1="374.15" y1="307.68" x2="386.56" y2="309.23" stroke="#4a9ba0" stroke-width="2.2"/><line x1="386.56" y1="309.23" x2="396.7" y2="310.5" stroke="#dc7676" stroke-width="2.2"/><line x1="374.15" y1="307.68" x2="369.55" y2="319.58" stroke="#4a9ba0" stroke-width="2.2"/><line x1="369.55" y1="319.58" x2="365.78" y2="329.32" stroke="#dc7676" stroke-width="2.2"/><line x1="374.15" y1="307.68" x2="380.83" y2="319.58" stroke="#4a9ba0" stroke-width="2.2"/><line x1="380.83" y1="319.58" x2="386.3" y2="329.32" stroke="#dc7676" stroke-width="2.2"/><line x1="437.63" y1="309.56" x2="432.97" y2="298.29" stroke="#4a9ba0" stroke-width="2.2"/><line x1="432.97" y1="298.29" x2="429.16" y2="289.07" stroke="#dc7676" stroke-width="2.2"/><line x1="437.63" y1="309.56" x2="427.07" y2="309.56" stroke="#4a9ba0" stroke-width="2.2"/><line x1="427.07" y1="309.56" x2="418.44" y2="309.56" stroke="#dc7676" stroke-width="2.2"/><line x1="437.63" y1="309.56" x2="432.97" y2="320.14" stroke="#4a9ba0" stroke-width="2.2"/><line x1="432.97" y1="320.14" x2="429.16" y2="328.79" stroke="#dc7676" stroke-width="2.2"/><line x1="437.63" y1="309.56" x2="445.09" y2="321.46" stroke="#4a9ba0" stroke-width="2.2"/><line x1="445.09" y1="321.46" x2="451.2" y2="331.2" stroke="#dc7676" stroke-width="2.2"/><line x1="346.7" y1="329.32" x2="338.9" y2="318.74" stroke="#4a9ba0" stroke-width="2.2"/><line x1="338.9" y1="318.74" x2="332.51" y2="310.08" stroke="#dc7676" stroke-width="2.2"/><line x1="346.7" y1="329.32" x2="350.97" y2="318.45" stroke="#4a9ba0" stroke-width="2.2"/><line x1="350.97" y1="318.45" x2="354.46" y2="309.56" stroke="#dc7676" stroke-width="2.2"/><line x1="346.7" y1="329.32" x2="333.06" y2="330.52" stroke="#4a9ba0" stroke-width="2.2"/><line x1="333.06" y1="330.52" x2="321.9" y2="331.51" stroke="#dc7676" stroke-width="2.2"/><line x1="346.7" y1="329.32" x2="357.2" y2="329.32" stroke="#4a9ba0" stroke-width="2.2"/><line x1="357.2" y1="329.32" x2="365.78" y2="329.32" stroke="#dc7676" stroke-width="2.2"/><line x1="410.79" y1="328.79" x2="403.04" y2="318.73" stroke="#4a9ba0" stroke-width="2.2"/><line x1="403.04" y1="318.73" x2="396.7" y2="310.5" stroke="#dc7676" stroke-width="2.2"/><line x1="410.79" y1="328.79" x2="415" y2="318.21" stroke="#4a9ba0" stroke-width="2.2"/><line x1="415" y1="318.21" x2="418.44" y2="309.56" stroke="#dc7676" stroke-width="2.2"/><line x1="410.79" y1="328.79" x2="397.32" y2="329.08" stroke="#4a9ba0" stroke-width="2.2"/><line x1="397.32" y1="329.08" x2="386.3" y2="329.32" stroke="#dc7676" stroke-width="2.2"/><line x1="410.79" y1="328.79" x2="420.89" y2="328.79" stroke="#4a9ba0" stroke-width="2.2"/><line x1="420.89" y1="328.79" x2="429.16" y2="328.79" stroke="#dc7676" stroke-width="2.2"/></g><ellipse cx="257.1" cy="211.5" rx="4.9" ry="5.19" fill="url(#gS)"/><ellipse cx="301.19" cy="210.04" rx="4.9" ry="5.19" fill="url(#gS)"/><ellipse cx="321.9" cy="210.04" rx="4.9" ry="5.19" fill="url(#gS)"/><ellipse cx="364.46" cy="209.2" rx="4.9" ry="5.19" fill="url(#gS)"/><ellipse cx="386.3" cy="211.5" rx="4.9" ry="5.19" fill="url(#gS)"/><ellipse cx="266.9" cy="229.27" rx="4.9" ry="5.19" fill="url(#gS)"/><ellipse cx="289.25" cy="230.42" rx="4.9" ry="5.19" fill="url(#gS)"/><ellipse cx="332.11" cy="229.27" rx="4.9" ry="5.19" fill="url(#gS)"/><ellipse cx="354.46" cy="229.48" rx="4.9" ry="5.19" fill="url(#gS)"/><ellipse cx="396.5" cy="229.27" rx="4.9" ry="5.19" fill="url(#gS)"/><ellipse cx="301.19" cy="249.45" rx="4.9" ry="5.19" fill="url(#gS)"/><ellipse cx="321.9" cy="249.45" rx="4.9" ry="5.19" fill="url(#gS)"/><ellipse cx="365.07" cy="249.66" rx="4.9" ry="5.19" fill="url(#gS)"/><ellipse cx="287.92" cy="267.95" rx="4.9" ry="5.19" fill="url(#gS)"/><ellipse cx="333.03" cy="268.47" rx="4.9" ry="5.19" fill="url(#gS)"/><ellipse cx="354.86" cy="269" rx="4.9" ry="5.19" fill="url(#gS)"/><ellipse cx="400.28" cy="269" rx="4.9" ry="5.19" fill="url(#gS)"/><ellipse cx="417.62" cy="268.37" rx="4.9" ry="5.19" fill="url(#gS)"/><ellipse cx="299.65" cy="288.86" rx="4.9" ry="5.19" fill="url(#gS)"/><ellipse cx="321.8" cy="289.38" rx="4.9" ry="5.19" fill="url(#gS)"/><ellipse cx="366.09" cy="289.38" rx="4.9" ry="5.19" fill="url(#gS)"/><ellipse cx="388.54" cy="289.38" rx="4.9" ry="5.19" fill="url(#gS)"/><ellipse cx="429.16" cy="289.07" rx="4.9" ry="5.19" fill="url(#gS)"/><ellipse cx="332.51" cy="310.08" rx="4.9" ry="5.19" fill="url(#gS)"/><ellipse cx="354.46" cy="309.56" rx="4.9" ry="5.19" fill="url(#gS)"/><ellipse cx="396.7" cy="310.5" rx="4.9" ry="5.19" fill="url(#gS)"/><ellipse cx="418.44" cy="309.56" rx="4.9" ry="5.19" fill="url(#gS)"/><ellipse cx="321.9" cy="331.51" rx="4.9" ry="5.19" fill="url(#gS)"/><ellipse cx="365.78" cy="329.32" rx="4.9" ry="5.19" fill="url(#gS)"/><ellipse cx="386.3" cy="329.32" rx="4.9" ry="5.19" fill="url(#gS)"/><ellipse cx="429.16" cy="328.79" rx="4.9" ry="5.19" fill="url(#gS)"/><ellipse cx="451.2" cy="331.2" rx="4.9" ry="5.19" fill="url(#gS)"/><ellipse cx="282.1" cy="209.72" rx="6.8" ry="7.21" fill="url(#gMo)"/><ellipse cx="345.58" cy="209.51" rx="6.8" ry="7.21" fill="url(#gMo)"/><ellipse cx="310.37" cy="232.2" rx="6.8" ry="7.21" fill="url(#gMo)"/><ellipse cx="371.6" cy="228.02" rx="6.8" ry="7.21" fill="url(#gMo)"/><ellipse cx="282.41" cy="246.73" rx="6.8" ry="7.21" fill="url(#gMo)"/><ellipse cx="341.6" cy="246.73" rx="6.8" ry="7.21" fill="url(#gMo)"/><ellipse cx="411.91" cy="246.94" rx="6.8" ry="7.21" fill="url(#gMo)"/><ellipse cx="312.31" cy="266.49" rx="6.8" ry="7.21" fill="url(#gMo)"/><ellipse cx="375.99" cy="274.12" rx="6.8" ry="7.21" fill="url(#gMo)"/><ellipse cx="345.27" cy="291.79" rx="6.8" ry="7.21" fill="url(#gMo)"/><ellipse cx="406.3" cy="292.73" rx="6.8" ry="7.21" fill="url(#gMo)"/><ellipse cx="307.51" cy="309.56" rx="6.8" ry="7.21" fill="url(#gMo)"/><ellipse cx="374.15" cy="307.68" rx="6.8" ry="7.21" fill="url(#gMo)"/><ellipse cx="437.63" cy="309.56" rx="6.8" ry="7.21" fill="url(#gMo)"/><ellipse cx="346.7" cy="329.32" rx="6.8" ry="7.21" fill="url(#gMo)"/><ellipse cx="410.79" cy="328.79" rx="6.8" ry="7.21" fill="url(#gMo)"/><polygon points="258,210.5 387.6,210.5 449.8,329.5 320.4,329.5" fill="none" stroke="#1a1a1a" stroke-width="0.5" opacity="0.8"/><ellipse cx="376.2" cy="221.4" rx="3.6" ry="3" fill="url(#gC)" opacity="0.8"/><ellipse cx="363.6" cy="234.6" rx="3" ry="2.4" fill="url(#gC)" opacity="0.8"/><ellipse cx="347.6" cy="251.6" rx="1.8" ry="2.2" fill="url(#gC)" opacity="0.8"/><ellipse cx="284.6" cy="253.8" rx="2" ry="1.4" fill="url(#gC)" opacity="0.8"/><ellipse cx="345" cy="267.6" rx="2.2" ry="1.4" fill="url(#gC)" opacity="0.8"/><ellipse cx="338.6" cy="294" rx="2.4" ry="2.8" fill="url(#gC)" opacity="0.8"/><ellipse cx="360" cy="295" rx="2.6" ry="2.2" fill="url(#gC)" opacity="0.8"/><ellipse cx="381.4" cy="300.6" rx="3" ry="2.2" fill="url(#gC)" opacity="0.8"/><ellipse cx="396.6" cy="293" rx="3" ry="3.4" fill="url(#gC)" opacity="0.8"/><ellipse cx="414" cy="292.2" rx="1.8" ry="1.6" fill="url(#gC)" opacity="0.8"/><ellipse cx="368" cy="313.4" rx="1.8" ry="1.4" fill="url(#gC)" opacity="0.8"/><ellipse cx="379.6" cy="313.4" rx="2" ry="1.4" fill="url(#gC)" opacity="0.8"/><ellipse cx="368.2" cy="277.8" rx="2.4" ry="3.2" fill="url(#gC)" opacity="0.8"/><ellipse cx="383" cy="273.2" rx="2.2" ry="3" fill="url(#gC)" opacity="0.8"/><ellipse cx="337.4" cy="294.6" rx="2.4" ry="2" fill="url(#gC)" opacity="0.8"/><ellipse cx="384" cy="267" rx="3" ry="1.8" fill="url(#gC)" opacity="0.8"/><ellipse cx="350.6" cy="270.8" rx="2" ry="1.2" fill="url(#gC)" opacity="0.8"/><ellipse cx="369.6" cy="240.4" rx="7.2" ry="7.4" fill="url(#gY)" opacity="0.8"/><ellipse cx="354.6" cy="249.8" rx="3.8" ry="4.2" fill="url(#gY)" opacity="0.8"/><ellipse cx="349.9" cy="260.4" rx="6.4" ry="6.6" fill="url(#gY)" opacity="0.8"/><ellipse cx="403.7" cy="258.9" rx="5.8" ry="5.4" fill="url(#gY)" opacity="0.8"/><ellipse cx="350.2" cy="279.4" rx="5" ry="4.2" fill="url(#gY)" opacity="0.8"/><ellipse cx="375.3" cy="275.4" rx="5" ry="4.4" fill="url(#gY)" opacity="0.8"/><ellipse cx="375.6" cy="288" rx="4.6" ry="8.4" fill="url(#gY)" opacity="0.8"/><ellipse cx="353.6" cy="290.9" rx="6.2" ry="6.2" fill="url(#gY)" opacity="0.8"/><ellipse cx="369.3" cy="299" rx="7" ry="6.2" fill="url(#gY)" opacity="0.8"/><ellipse cx="379.2" cy="297.8" rx="4.6" ry="4.4" fill="url(#gY)" opacity="0.8"/><ellipse cx="401.5" cy="279.9" rx="5.2" ry="5.6" fill="url(#gY)" opacity="0.8"/><ellipse cx="394" cy="291.4" rx="5.6" ry="5.8" fill="url(#gY)" opacity="0.8"/><ellipse cx="409.6" cy="294.6" rx="3.6" ry="4.2" fill="url(#gY)" opacity="0.8"/><ellipse cx="377.4" cy="266.6" rx="4.4" ry="3.2" fill="url(#gY)" opacity="0.8"/><rect x="343.8" y="258.5" width="23.2" height="20.2" fill="none" stroke="#111" stroke-width="0.7" stroke-dasharray="2.7 1.7"/></g>
<g id="pc"><rect x="515.8" y="16.1" width="163.1" height="125.3" fill="url(#bgC)"/><line x1="556.6" y1="116.4" x2="583.2" y2="37.46" stroke="#555" stroke-width="0.9" stroke-dasharray="1.9 2"/><line x1="611" y1="37.46" x2="637.4" y2="116.4" stroke="#555" stroke-width="0.9" stroke-dasharray="1.9 2"/><line x1="556.6" y1="116.4" x2="583.2" y2="31.2" stroke="#2a2ae0" stroke-width="0.9" stroke-dasharray="1.9 2"/><line x1="611" y1="31.2" x2="637.4" y2="116.4" stroke="#2a2ae0" stroke-width="0.9" stroke-dasharray="1.9 2"/><line x1="556.6" y1="116.4" x2="583.2" y2="45.48" stroke="#ee2222" stroke-width="0.9" stroke-dasharray="1.9 2"/><line x1="611" y1="45.48" x2="637.4" y2="116.4" stroke="#ee2222" stroke-width="0.9" stroke-dasharray="1.9 2"/><line x1="556.6" y1="116.4" x2="637.4" y2="116.4" stroke="#333" stroke-width="0.7" stroke-dasharray="2.6 1.8"/><line x1="515.8" y1="116.4" x2="556.6" y2="116.4" stroke="#111" stroke-width="1.1"/><line x1="637.4" y1="116.4" x2="678.9" y2="116.4" stroke="#111" stroke-width="1.1"/><line x1="583.2" y1="31.2" x2="611" y2="31.2" stroke="#1414f0" stroke-width="1.7"/><line x1="583.2" y1="37.46" x2="611.6" y2="37.46" stroke="#0a0a0a" stroke-width="1.5"/><line x1="583.2" y1="45.48" x2="611" y2="45.48" stroke="#f01414" stroke-width="1.5"/><text x="598.2" y="28.8" font-size="8.6" fill="#050505" text-anchor="middle">S1</text><text x="598" y="54.3" font-size="8.6" fill="#050505" text-anchor="middle">S2</text><text x="623.6" y="33.8" font-size="8.6" fill="#050505">S3</text><line x1="612" y1="36.9" x2="621.6" y2="32.3" stroke="#333" stroke-width="0.6"/><path d="M622.8 31.8 L620.2 34 L619.6 32.4 Z" fill="#333"/><rect x="515.8" y="16.1" width="163.1" height="125.3" fill="none" stroke="#0a0a0a" stroke-width="1.3"/><line x1="515.8" y1="41.22" x2="518.4" y2="41.22" stroke="#0a0a0a" stroke-width="1"/><line x1="515.8" y1="66.28" x2="518.4" y2="66.28" stroke="#0a0a0a" stroke-width="1"/><line x1="515.8" y1="91.34" x2="518.4" y2="91.34" stroke="#0a0a0a" stroke-width="1"/><line x1="515.8" y1="116.4" x2="518.4" y2="116.4" stroke="#0a0a0a" stroke-width="1"/><line x1="515.8" y1="28.69" x2="517.3" y2="28.69" stroke="#0a0a0a" stroke-width="1"/><line x1="515.8" y1="53.75" x2="517.3" y2="53.75" stroke="#0a0a0a" stroke-width="1"/><line x1="515.8" y1="78.81" x2="517.3" y2="78.81" stroke="#0a0a0a" stroke-width="1"/><line x1="515.8" y1="103.87" x2="517.3" y2="103.87" stroke="#0a0a0a" stroke-width="1"/><line x1="515.8" y1="128.93" x2="517.3" y2="128.93" stroke="#0a0a0a" stroke-width="1"/><text x="512.6" y="19.46" font-size="10.1" fill="#050505" text-anchor="end">0.8</text><text x="512.6" y="44.52" font-size="10.1" fill="#050505" text-anchor="end">0.6</text><text x="512.6" y="69.58" font-size="10.1" fill="#050505" text-anchor="end">0.4</text><text x="512.6" y="94.64" font-size="10.1" fill="#050505" text-anchor="end">0.2</text><text x="512.6" y="119.7" font-size="10.1" fill="#050505" text-anchor="end">0.0</text><text x="512.6" y="144.76" font-size="10.1" fill="#050505" text-anchor="end">-0.2</text><text x="494.8" y="79.3" font-size="10.2" fill="#222" text-anchor="middle" transform="rotate(-90 494.8 79.3)"><tspan font-size="9.7">&#916;G</tspan><tspan font-size="6.98" dy="3.3">H</tspan><tspan font-size="6.98" dy="-0.97">*</tspan><tspan dy="-2.33"> (eV)</tspan></text><text x="540.6" y="154.1" font-size="10.3" fill="#050505" text-anchor="middle">H<tspan font-size="9.5" dy="-4.4">*</tspan><tspan dy="4.4">+e</tspan><tspan font-size="7.6" dy="-6.4">-</tspan></text><text x="597.8" y="154.1" font-size="10.3" fill="#050505" text-anchor="middle">H<tspan font-size="9.5" dy="-4.4">*</tspan></text><text x="660.6" y="154.1" font-size="10.3" fill="#050505">1/2H<tspan font-size="7.2" dy="3.2">2</tspan></text><text x="597.2" y="164.1" font-size="10.15" fill="#050505" text-anchor="middle">Reaction coordinate</text></g>
<g id="pf"><rect x="512.8" y="205.85" width="163.1" height="125.35" fill="url(#bgF)"/><line x1="554" y1="268.45" x2="580.4" y2="224.56" stroke="#e040e0" stroke-width="0.8" stroke-dasharray="2.6 2"/><line x1="607.9" y1="224.56" x2="634.7" y2="268.45" stroke="#e040e0" stroke-width="0.8" stroke-dasharray="2.6 2"/><line x1="554" y1="268.45" x2="580.4" y2="237.1" stroke="#e03030" stroke-width="0.8" stroke-dasharray="2.6 2"/><line x1="607.9" y1="237.1" x2="634.7" y2="268.45" stroke="#e03030" stroke-width="0.8" stroke-dasharray="2.6 2"/><line x1="554" y1="268.45" x2="580.4" y2="236.05" stroke="#3a3ab0" stroke-width="0.8" stroke-dasharray="2.6 2"/><line x1="607.9" y1="236.05" x2="634.7" y2="268.45" stroke="#3a3ab0" stroke-width="0.8" stroke-dasharray="2.6 2"/><line x1="554" y1="268.45" x2="580.4" y2="256.95" stroke="#2a9a2a" stroke-width="0.8" stroke-dasharray="2.6 2"/><line x1="607.9" y1="256.95" x2="634.7" y2="268.45" stroke="#2a9a2a" stroke-width="0.8" stroke-dasharray="2.6 2"/><line x1="554" y1="268.45" x2="580.4" y2="298.75" stroke="#333" stroke-width="0.8" stroke-dasharray="2.6 2"/><line x1="607.9" y1="298.75" x2="634.7" y2="268.45" stroke="#333" stroke-width="0.8" stroke-dasharray="2.6 2"/><line x1="554" y1="268.45" x2="580.4" y2="310.77" stroke="#2a2ae0" stroke-width="0.8" stroke-dasharray="2.6 2"/><line x1="607.9" y1="310.77" x2="634.7" y2="268.45" stroke="#2a2ae0" stroke-width="0.8" stroke-dasharray="2.6 2"/><line x1="554" y1="268.45" x2="634.7" y2="268.45" stroke="#222" stroke-width="0.7" stroke-dasharray="2.6 1.8"/><line x1="512.8" y1="268.45" x2="554" y2="268.45" stroke="#111" stroke-width="1.1"/><line x1="634.7" y1="268.45" x2="675.9" y2="268.45" stroke="#111" stroke-width="1.1"/><line x1="580.4" y1="224.56" x2="607.9" y2="224.56" stroke="#ee22ee" stroke-width="1.5"/><line x1="580.4" y1="236.9" x2="607.9" y2="236.9" stroke="#e01010" stroke-width="1.6"/><line x1="580.4" y1="235.65" x2="607.9" y2="235.65" stroke="#111" stroke-width="1.1"/><line x1="580.4" y1="256.95" x2="607.9" y2="256.95" stroke="#0a8a0a" stroke-width="1.5"/><line x1="580.4" y1="298.75" x2="607.9" y2="298.75" stroke="#0a0a0a" stroke-width="1.5"/><line x1="580.4" y1="310.77" x2="607.9" y2="310.77" stroke="#1414f0" stroke-width="1.5"/><text x="596.2" y="223" font-size="9.1" fill="#050505" text-anchor="middle">S4*</text><text x="593.8" y="234.2" font-size="9.1" fill="#050505" text-anchor="middle">S2*/S6*</text><text x="596" y="255.2" font-size="9.1" fill="#050505" text-anchor="middle">S5*</text><text x="595.4" y="297" font-size="9.1" fill="#050505" text-anchor="middle">V1</text><text x="596" y="319.4" font-size="9.1" fill="#050505" text-anchor="middle">S3*</text><rect x="512.8" y="205.85" width="163.1" height="125.35" fill="none" stroke="#0a0a0a" stroke-width="1.3"/><line x1="512.8" y1="226.65" x2="515.4" y2="226.65" stroke="#0a0a0a" stroke-width="1"/><line x1="512.8" y1="247.55" x2="515.4" y2="247.55" stroke="#0a0a0a" stroke-width="1"/><line x1="512.8" y1="268.45" x2="515.4" y2="268.45" stroke="#0a0a0a" stroke-width="1"/><line x1="512.8" y1="289.35" x2="515.4" y2="289.35" stroke="#0a0a0a" stroke-width="1"/><line x1="512.8" y1="310.25" x2="515.4" y2="310.25" stroke="#0a0a0a" stroke-width="1"/><text x="509.8" y="209.15" font-size="10.4" fill="#050505" text-anchor="end">0.6</text><text x="509.8" y="230.05" font-size="10.4" fill="#050505" text-anchor="end">0.4</text><text x="509.8" y="250.95" font-size="10.4" fill="#050505" text-anchor="end">0.2</text><text x="509.8" y="271.85" font-size="10.4" fill="#050505" text-anchor="end">0.0</text><text x="509.8" y="292.75" font-size="10.4" fill="#050505" text-anchor="end">-0.2</text><text x="509.8" y="313.65" font-size="10.4" fill="#050505" text-anchor="end">-0.4</text><text x="509.8" y="334.55" font-size="10.4" fill="#050505" text-anchor="end">-0.6</text><text x="538.2" y="344.6" font-size="10.3" fill="#050505" text-anchor="middle">H<tspan font-size="9.5" dy="-4.4">*</tspan><tspan dy="4.4">+e</tspan><tspan font-size="7.6" dy="-6.4">-</tspan></text><text x="594.8" y="344.6" font-size="10.3" fill="#050505" text-anchor="middle">H<tspan font-size="9.5" dy="-4.4">*</tspan></text><text x="657.4" y="344.6" font-size="10.3" fill="#050505">1/2H<tspan font-size="7.2" dy="3.2">2</tspan></text></g>
<g id="pg"><rect x="48.2" y="371.5" width="161.9" height="137.8" fill="url(#bgG)"/><line x1="48.2" y1="446.85" x2="211.1" y2="446.85" stroke="#666" stroke-width="1.4" stroke-dasharray="5.3 3.8"/><rect x="48.2" y="384.5" width="162.9" height="124.8" fill="none" stroke="#404040" stroke-width="1.25"/><line x1="48.2" y1="405.25" x2="50.8" y2="405.25" stroke="#444" stroke-width="1"/><line x1="48.2" y1="426.05" x2="50.8" y2="426.05" stroke="#444" stroke-width="1"/><line x1="48.2" y1="446.85" x2="50.8" y2="446.85" stroke="#444" stroke-width="1"/><line x1="48.2" y1="467.65" x2="50.8" y2="467.65" stroke="#444" stroke-width="1"/><line x1="48.2" y1="488.45" x2="50.8" y2="488.45" stroke="#444" stroke-width="1"/><line x1="62.5" y1="509.3" x2="62.5" y2="506.9" stroke="#444" stroke-width="1"/><line x1="92.22" y1="509.3" x2="92.22" y2="506.9" stroke="#444" stroke-width="1"/><line x1="121.94" y1="509.3" x2="121.94" y2="506.9" stroke="#444" stroke-width="1"/><line x1="151.66" y1="509.3" x2="151.66" y2="506.9" stroke="#444" stroke-width="1"/><line x1="181.38" y1="509.3" x2="181.38" y2="506.9" stroke="#444" stroke-width="1"/><text x="45.4" y="388.15" font-size="11.2" fill="#050505" text-anchor="end">0.6</text><text x="45.4" y="408.95" font-size="11.2" fill="#050505" text-anchor="end">0.4</text><text x="45.4" y="429.75" font-size="11.2" fill="#050505" text-anchor="end">0.2</text><text x="45.4" y="450.55" font-size="11.2" fill="#050505" text-anchor="end">0.0</text><text x="45.4" y="471.35" font-size="11.2" fill="#050505" text-anchor="end">-0.2</text><text x="45.4" y="492.15" font-size="11.2" fill="#050505" text-anchor="end">-0.4</text><text x="45.4" y="512.95" font-size="11.2" fill="#050505" text-anchor="end">-0.6</text><text x="62.5" y="520.6" font-size="11.2" fill="#050505" text-anchor="middle">6.50</text><text x="92.22" y="520.6" font-size="11.2" fill="#050505" text-anchor="middle">6.55</text><text x="121.94" y="520.6" font-size="11.2" fill="#050505" text-anchor="middle">6.60</text><text x="151.66" y="520.6" font-size="11.2" fill="#050505" text-anchor="middle">6.65</text><text x="181.38" y="520.6" font-size="11.2" fill="#050505" text-anchor="middle">6.70</text><text x="211.1" y="520.6" font-size="11.2" fill="#050505" text-anchor="middle">6.75</text><text x="134.2" y="533.2" font-size="11.1" fill="#050505" text-anchor="middle">Electron Number of S</text><text x="20.6" y="447.6" font-size="10.8" fill="#050505" text-anchor="middle" transform="rotate(-90 20.6 447.6)"><tspan font-size="10.4">&#916;G</tspan><tspan font-size="7.49" dy="3.12">H</tspan><tspan font-size="7.49" dy="-1.25">*</tspan><tspan dy="-1.87"> (eV)</tspan></text><circle cx="69.2" cy="403.3" r="4.1" fill="url(#bR)"/><circle cx="147.7" cy="415.7" r="4.1" fill="url(#bM)"/><circle cx="144.2" cy="415.4" r="4.1" fill="url(#bB)"/><circle cx="169.2" cy="435.7" r="4.1" fill="url(#bG)"/><circle cx="192.9" cy="489.3" r="4.1" fill="url(#bK)"/><text x="76.4" y="400.7" font-size="9.7" fill="#f00808">S4*</text><text x="127" y="404.9" font-size="9.7" fill="#1010f0">S6*</text><text x="154.6" y="407.9" font-size="9.7" fill="#f410f4">S2*</text><text x="174.4" y="442.9" font-size="9.7" fill="#18dc18">S5*</text><text x="195" y="483.7" font-size="9.7" fill="#1a1a1a">S3*</text></g>
<g id="ph"><g><polygon points="277.24,437.07 279.25,429.29 288.52,436.14 292.14,425.25 294.76,425.56 297.38,435.2 300.8,434.58 305.44,438 310.47,442.36 315.51,442.05 320.54,440.18 325.58,441.11 329.81,440.49 336.25,411.57 342.9,436.14 348.74,421.21 354.38,445.78 357.8,446.4 357.8,446.4 354.38,447.02 348.74,471.59 342.9,456.66 336.25,481.23 329.81,452.31 325.58,451.69 320.54,452.62 315.51,450.75 310.47,450.44 305.44,454.8 300.8,458.22 297.38,457.6 294.76,467.24 292.14,467.55 288.52,456.66 279.25,463.5 277.24,455.73" fill="#7fd6a0" fill-opacity="0.32"/><polyline points="277.24,437.07 279.25,429.29 288.52,436.14 292.14,425.25 294.76,425.56 297.38,435.2 300.8,434.58 305.44,438 310.47,442.36 315.51,442.05 320.54,440.18 325.58,441.11 329.81,440.49 336.25,411.57 342.9,436.14 348.74,421.21 354.38,445.78 357.8,446.4 369.28,446.4 372.7,426.5 375.32,427.43 378.34,408.77 381.36,416.23 387.2,445.78 390.63,421.21 393.25,421.21 396.27,441.42 402.51,388.86 405.53,432.72 411.17,441.42 417.41,430.54 423.05,438.31 426.07,425.56 429.3,430.23 432.52,421.52 438.36,439.87" fill="none" stroke="#3cb371" stroke-width="0.9" stroke-linejoin="round"/><polyline points="277.24,455.73 279.25,463.5 288.52,456.66 292.14,467.55 294.76,467.24 297.38,457.6 300.8,458.22 305.44,454.8 310.47,450.44 315.51,450.75 320.54,452.62 325.58,451.69 329.81,452.31 336.25,481.23 342.9,456.66 348.74,471.59 354.38,447.02 357.8,446.4 369.28,446.4 372.7,466.3 375.32,465.37 378.34,484.03 381.36,476.57 387.2,447.02 390.63,471.59 393.25,471.59 396.27,451.38 402.51,503.94 405.53,460.08 411.17,451.38 417.41,462.26 423.05,454.49 426.07,467.24 429.3,462.57 432.52,471.28 438.36,452.93" fill="none" stroke="#3cb371" stroke-width="0.9" stroke-linejoin="round"/><polygon points="277.24,442.67 280.26,439.56 285.3,442.67 291.34,443.29 295.37,440.18 298.39,442.05 302.42,440.8 309.46,444.53 311.48,442.67 315.51,434.58 318.53,435.2 321.55,439.56 324.57,434.58 328.6,438.94 332.62,440.18 337.66,438 341.69,438.62 348.74,430.85 351.76,437.07 354.78,446.4 354.78,446.4 351.76,455.73 348.74,461.95 341.69,454.17 337.66,454.8 332.62,452.62 328.6,453.86 324.57,458.22 321.55,453.24 318.53,457.6 315.51,458.22 311.48,450.13 309.46,448.27 302.42,452 298.39,450.75 295.37,452.62 291.34,449.51 285.3,450.13 280.26,453.24 277.24,450.13" fill="#f08080" fill-opacity="0.38"/><polyline points="277.24,442.67 280.26,439.56 285.3,442.67 291.34,443.29 295.37,440.18 298.39,442.05 302.42,440.8 309.46,444.53 311.48,442.67 315.51,434.58 318.53,435.2 321.55,439.56 324.57,434.58 328.6,438.94 332.62,440.18 337.66,438 341.69,438.62 348.74,430.85 351.76,437.07 354.78,446.4 368.88,446.4 373.91,444.22 377.94,443.29 381.97,444.53 387,446.4 392.04,442.67 397.07,445.16 402.11,443.91 408.15,445.16 416.21,444.22 422.25,444.84 426.28,441.42 429.3,441.11 432.32,439.56 435.34,441.42 438.36,444.53" fill="none" stroke="#f06060" stroke-width="0.8" stroke-linejoin="round"/><polyline points="277.24,450.13 280.26,453.24 285.3,450.13 291.34,449.51 295.37,452.62 298.39,450.75 302.42,452 309.46,448.27 311.48,450.13 315.51,458.22 318.53,457.6 321.55,453.24 324.57,458.22 328.6,453.86 332.62,452.62 337.66,454.8 341.69,454.17 348.74,461.95 351.76,455.73 354.78,446.4 368.88,446.4 373.91,448.58 377.94,449.51 381.97,448.27 387,446.4 392.04,450.13 397.07,447.64 402.11,448.89 408.15,447.64 416.21,448.58 422.25,447.95 426.28,451.38 429.3,451.69 432.32,453.24 435.34,451.38 438.36,448.27" fill="none" stroke="#f06060" stroke-width="0.8" stroke-linejoin="round"/><polygon points="277.24,437.07 279.25,434.58 285.3,437.69 289.32,439.56 292.35,435.2 296.37,437.07 300.4,434.58 304.43,438 308.46,441.11 311.48,443.29 317.52,442.67 323.56,440.8 329.6,442.05 335.65,440.18 341.69,441.73 347.73,441.42 352.76,444.84 355.38,446.4 355.38,446.4 352.76,447.95 347.73,451.38 341.69,451.06 335.65,452.62 329.6,450.75 323.56,452 317.52,450.13 311.48,449.51 308.46,451.69 304.43,454.8 300.4,458.22 296.37,455.73 292.35,457.6 289.32,453.24 285.3,455.11 279.25,458.22 277.24,455.73" fill="#6a9cf0" fill-opacity="0.4"/><polyline points="277.24,437.07 279.25,434.58 285.3,437.69 289.32,439.56 292.35,435.2 296.37,437.07 300.4,434.58 304.43,438 308.46,441.11 311.48,443.29 317.52,442.67 323.56,440.8 329.6,442.05 335.65,440.18 341.69,441.73 347.73,441.42 352.76,444.84 355.38,446.4 368.88,446.4 373.91,442.67 376.93,442.05 378.95,435.51 381.97,437.69 387,446.4 392.04,443.91 397.07,445.47 402.11,442.67 408.15,445.16 414.19,443.29 420.23,444.84 426.28,443.29 432.32,442.36 438.36,444.84" fill="none" stroke="#5a8cf0" stroke-width="0.8" stroke-linejoin="round"/><polyline points="277.24,455.73 279.25,458.22 285.3,455.11 289.32,453.24 292.35,457.6 296.37,455.73 300.4,458.22 304.43,454.8 308.46,451.69 311.48,449.51 317.52,450.13 323.56,452 329.6,450.75 335.65,452.62 341.69,451.06 347.73,451.38 352.76,447.95 355.38,446.4 368.88,446.4 373.91,450.13 376.93,450.75 378.95,457.28 381.97,455.11 387,446.4 392.04,448.89 397.07,447.33 402.11,450.13 408.15,447.64 414.19,449.51 420.23,447.95 426.28,449.51 432.32,450.44 438.36,447.95" fill="none" stroke="#5a8cf0" stroke-width="0.8" stroke-linejoin="round"/><polygon points="277.24,437.69 279.25,433.34 285.3,436.14 289.32,437.07 292.35,433.34 295.37,433.96 297.38,438 301.41,437.07 305.44,440.18 309.46,441.42 311.48,443.91 317.52,442.36 323.56,441.73 329.6,442.67 335.65,440.8 341.69,441.11 347.73,442.67 352.76,445.16 355.38,446.4 355.38,446.4 352.76,447.64 347.73,450.13 341.69,451.69 335.65,452 329.6,450.13 323.56,451.06 317.52,450.44 311.48,448.89 309.46,451.38 305.44,452.62 301.41,455.73 297.38,454.8 295.37,458.84 292.35,459.46 289.32,455.73 285.3,456.66 279.25,459.46 277.24,455.11" fill="#a985e0" fill-opacity="0.5"/><polyline points="277.24,437.69 279.25,433.34 285.3,436.14 289.32,437.07 292.35,433.34 295.37,433.96 297.38,438 301.41,437.07 305.44,440.18 309.46,441.42 311.48,443.91 317.52,442.36 323.56,441.73 329.6,442.67 335.65,440.8 341.69,441.11 347.73,442.67 352.76,445.16 355.38,446.4 368.88,446.4 373.91,443.29 379.95,440.18 383.98,442.05 387,446.4 392.04,444.53 397.07,445.78 402.11,440.18 407.14,443.29 412.18,445.16 417.21,442.05 422.25,445.16 427.28,442.67 432.32,442.05 438.36,445.16" fill="none" stroke="#a860e0" stroke-width="0.8" stroke-linejoin="round"/><polyline points="277.24,455.11 279.25,459.46 285.3,456.66 289.32,455.73 292.35,459.46 295.37,458.84 297.38,454.8 301.41,455.73 305.44,452.62 309.46,451.38 311.48,448.89 317.52,450.44 323.56,451.06 329.6,450.13 335.65,452 341.69,451.69 347.73,450.13 352.76,447.64 355.38,446.4 368.88,446.4 373.91,449.51 379.95,452.62 383.98,450.75 387,446.4 392.04,448.27 397.07,447.02 402.11,452.62 407.14,449.51 412.18,447.64 417.21,450.75 422.25,447.64 427.28,450.13 432.32,450.75 438.36,447.64" fill="none" stroke="#a860e0" stroke-width="0.8" stroke-linejoin="round"/></g><line x1="357.8" y1="383.65" x2="357.8" y2="508.1" stroke="#999" stroke-width="1.4" stroke-dasharray="1.8 2.3"/><line x1="277.6" y1="446.4" x2="438.7" y2="446.4" stroke="#0a0a0a" stroke-width="1.1" stroke-dasharray="4.4 2.8"/><line x1="282.5" y1="389.4" x2="297.4" y2="389.4" stroke="#3cb371" stroke-width="1.1"/><text x="300.6" y="392.3" font-size="9.7" fill="#050505">Mo-4<tspan font-style="italic">d</tspan></text><line x1="282.5" y1="401.2" x2="297.4" y2="401.2" stroke="#f06060" stroke-width="1.1"/><text x="300.6" y="404.1" font-size="9.7" fill="#050505">S1-3<tspan font-style="italic">p</tspan></text><line x1="282.5" y1="412.6" x2="297.4" y2="412.6" stroke="#5a8cf0" stroke-width="1.1"/><text x="300.6" y="415.5" font-size="9.7" fill="#050505">S2-3<tspan font-style="italic">p</tspan></text><line x1="282.5" y1="424.1" x2="297.4" y2="424.1" stroke="#a860e0" stroke-width="1.1"/><text x="300.6" y="427" font-size="9.7" fill="#050505">S3-3<tspan font-style="italic">p</tspan></text><rect x="277.6" y="383.65" width="161.1" height="124.45" fill="none" stroke="#1a1a1a" stroke-width="1.3"/><line x1="277.6" y1="415.3" x2="280.2" y2="415.3" stroke="#0a0a0a" stroke-width="1"/><line x1="277.6" y1="446.4" x2="280.2" y2="446.4" stroke="#0a0a0a" stroke-width="1"/><line x1="277.6" y1="477.5" x2="280.2" y2="477.5" stroke="#0a0a0a" stroke-width="1"/><line x1="277.6" y1="399.75" x2="279.1" y2="399.75" stroke="#0a0a0a" stroke-width="1"/><line x1="277.6" y1="430.85" x2="279.1" y2="430.85" stroke="#0a0a0a" stroke-width="1"/><line x1="277.6" y1="461.95" x2="279.1" y2="461.95" stroke="#0a0a0a" stroke-width="1"/><line x1="277.6" y1="493.05" x2="279.1" y2="493.05" stroke="#0a0a0a" stroke-width="1"/><line x1="297.38" y1="508.1" x2="297.38" y2="505.5" stroke="#0a0a0a" stroke-width="1"/><line x1="317.52" y1="508.1" x2="317.52" y2="505.5" stroke="#0a0a0a" stroke-width="1"/><line x1="337.66" y1="508.1" x2="337.66" y2="505.5" stroke="#0a0a0a" stroke-width="1"/><line x1="357.8" y1="508.1" x2="357.8" y2="505.5" stroke="#0a0a0a" stroke-width="1"/><line x1="377.94" y1="508.1" x2="377.94" y2="505.5" stroke="#0a0a0a" stroke-width="1"/><line x1="398.08" y1="508.1" x2="398.08" y2="505.5" stroke="#0a0a0a" stroke-width="1"/><line x1="418.22" y1="508.1" x2="418.22" y2="505.5" stroke="#0a0a0a" stroke-width="1"/><line x1="287.31" y1="508.1" x2="287.31" y2="506.6" stroke="#0a0a0a" stroke-width="1"/><line x1="307.45" y1="508.1" x2="307.45" y2="506.6" stroke="#0a0a0a" stroke-width="1"/><line x1="327.59" y1="508.1" x2="327.59" y2="506.6" stroke="#0a0a0a" stroke-width="1"/><line x1="347.73" y1="508.1" x2="347.73" y2="506.6" stroke="#0a0a0a" stroke-width="1"/><line x1="367.87" y1="508.1" x2="367.87" y2="506.6" stroke="#0a0a0a" stroke-width="1"/><line x1="388.01" y1="508.1" x2="388.01" y2="506.6" stroke="#0a0a0a" stroke-width="1"/><line x1="408.15" y1="508.1" x2="408.15" y2="506.6" stroke="#0a0a0a" stroke-width="1"/><line x1="428.29" y1="508.1" x2="428.29" y2="506.6" stroke="#0a0a0a" stroke-width="1"/><text x="274.2" y="387.4" font-size="11" fill="#050505" text-anchor="end">2</text><text x="274.2" y="418.5" font-size="11" fill="#050505" text-anchor="end">1</text><text x="274.2" y="449.6" font-size="11" fill="#050505" text-anchor="end">0</text><text x="274.2" y="480.7" font-size="11" fill="#050505" text-anchor="end">-1</text><text x="274.2" y="511.8" font-size="11" fill="#050505" text-anchor="end">-2</text><text x="277.24" y="520.1" font-size="11" fill="#050505" text-anchor="middle">-4</text><text x="297.38" y="520.1" font-size="11" fill="#050505" text-anchor="middle">-3</text><text x="317.52" y="520.1" font-size="11" fill="#050505" text-anchor="middle">-2</text><text x="337.66" y="520.1" font-size="11" fill="#050505" text-anchor="middle">-1</text><text x="357.8" y="520.1" font-size="11" fill="#050505" text-anchor="middle">0</text><text x="377.94" y="520.1" font-size="11" fill="#050505" text-anchor="middle">1</text><text x="398.08" y="520.1" font-size="11" fill="#050505" text-anchor="middle">2</text><text x="418.22" y="520.1" font-size="11" fill="#050505" text-anchor="middle">3</text><text x="438.36" y="520.1" font-size="11" fill="#050505" text-anchor="middle">4</text><text x="358" y="530.8" font-size="11.1" fill="#050505" text-anchor="middle">Energy (eV)</text><text x="260.8" y="446.27" font-size="10.9" fill="#050505" text-anchor="middle" transform="rotate(-90 260.8 446.27)">PDOS (State/eV)</text></g>
<g id="pi"><polygon points="511.82,436.25 514.85,435 519.89,430.03 522.91,430.65 525.94,434.38 528.96,432.2 533,434.38 536.02,435.31 541.07,439.36 544.09,435.94 550.14,435.94 555.19,438.43 558.21,434.38 563.25,436.87 568.3,433.14 571.32,430.34 574.75,430.65 579.79,435.63 583.42,435.94 586.85,439.98 589.47,446.2 589.47,446.2 586.85,452.42 583.42,456.46 579.79,456.77 574.75,461.75 571.32,462.06 568.3,459.26 563.25,455.53 558.21,458.02 555.19,453.97 550.14,456.46 544.09,456.46 541.07,453.04 536.02,457.08 533,458.02 528.96,460.19 525.94,458.02 522.91,461.75 519.89,462.37 514.85,457.4 511.82,456.15" fill="#8fd8ac" fill-opacity="0.5"/><polyline points="511.82,436.25 514.85,435 519.89,430.03 522.91,430.65 525.94,434.38 528.96,432.2 533,434.38 536.02,435.31 541.07,439.36 544.09,435.94 550.14,435.94 555.19,438.43 558.21,434.38 563.25,436.87 568.3,433.14 571.32,430.34 574.75,430.65 579.79,435.63 583.42,435.94 586.85,439.98 589.47,446.2 592.1,436.87 595.12,426.61 598.35,434.07 604,436.56 607.43,425.05 610.65,446.2 613.28,434.38 616.1,429.72 619.33,428.78 622.55,425.36 625.78,429.72 629.01,421.63 632.03,419.45 634.86,416.65 637.88,428.78 640.91,430.03 643.93,422.56 647.36,425.36 650.39,429.41 653.41,436.87 656.44,437.8 659.46,436.56 662.49,441.85 665.52,439.36 668.74,437.49 671.77,427.85 673.18,433.76" fill="none" stroke="#32b85c" stroke-width="0.9" stroke-linejoin="round"/><polyline points="511.82,456.15 514.85,457.4 519.89,462.37 522.91,461.75 525.94,458.02 528.96,460.19 533,458.02 536.02,457.08 541.07,453.04 544.09,456.46 550.14,456.46 555.19,453.97 558.21,458.02 563.25,455.53 568.3,459.26 571.32,462.06 574.75,461.75 579.79,456.77 583.42,456.46 586.85,452.42 589.47,446.2 592.1,455.53 595.12,465.79 598.35,458.33 604,455.84 607.43,467.35 610.65,446.2 613.28,458.02 616.1,462.68 619.33,463.62 622.55,467.04 625.78,462.68 629.01,470.77 632.03,472.95 634.86,475.75 637.88,463.62 640.91,462.37 643.93,469.84 647.36,467.04 650.39,462.99 653.41,455.53 656.44,454.6 659.46,455.84 662.49,450.55 665.52,453.04 668.74,454.91 671.77,464.55 673.18,458.64" fill="none" stroke="#32b85c" stroke-width="0.9" stroke-linejoin="round"/><polygon points="511.82,438.11 516.86,439.98 519.89,436.87 523.92,439.98 529.97,439.98 536.02,439.36 541.07,439.98 544.09,435.31 548.13,437.8 552.16,438.43 556.19,439.98 559.22,436.87 564.26,439.98 568.3,437.8 572.33,439.05 580.4,441.53 586.45,444.64 589.47,446.2 589.47,446.2 586.45,447.75 580.4,450.87 572.33,453.35 568.3,454.6 564.26,452.42 559.22,455.53 556.19,452.42 552.16,453.97 548.13,454.6 544.09,457.08 541.07,452.42 536.02,453.04 529.97,452.42 523.92,452.42 519.89,455.53 516.86,452.42 511.82,454.29" fill="#e58a8a" fill-opacity="0.5"/><polyline points="511.82,438.11 516.86,439.98 519.89,436.87 523.92,439.98 529.97,439.98 536.02,439.36 541.07,439.98 544.09,435.31 548.13,437.8 552.16,438.43 556.19,439.98 559.22,436.87 564.26,439.98 568.3,437.8 572.33,439.05 580.4,441.53 586.45,444.64 589.47,446.2 593.51,442.47 598.55,443.4 602.59,443.71 607.63,442.16 610.65,445.58 616.7,443.09 622.75,440.6 626.79,442.78 636.87,443.09 644.94,443.09 653.01,443.4 661.08,442.47 667.13,441.22 672.17,439.67 673.18,440.29" fill="none" stroke="#f06a6a" stroke-width="0.8" stroke-linejoin="round"/><polyline points="511.82,454.29 516.86,452.42 519.89,455.53 523.92,452.42 529.97,452.42 536.02,453.04 541.07,452.42 544.09,457.08 548.13,454.6 552.16,453.97 556.19,452.42 559.22,455.53 564.26,452.42 568.3,454.6 572.33,453.35 580.4,450.87 586.45,447.75 589.47,446.2 593.51,449.93 598.55,449 602.59,448.69 607.63,450.24 610.65,446.82 616.7,449.31 622.75,451.8 626.79,449.62 636.87,449.31 644.94,449.31 653.01,449 661.08,449.93 667.13,451.18 672.17,452.73 673.18,452.11" fill="none" stroke="#f06a6a" stroke-width="0.8" stroke-linejoin="round"/><line x1="592.5" y1="383.65" x2="592.5" y2="508.1" stroke="#222" stroke-width="0.7" stroke-dasharray="2.4 1.8"/><line x1="511.9" y1="446.2" x2="673.3" y2="446.2" stroke="#1a1a1a" stroke-width="1.1" stroke-dasharray="4.8 3.2"/><line x1="516.3" y1="393.2" x2="531.2" y2="393.2" stroke="#32b85c" stroke-width="1.1"/><text x="533.6" y="396.5" font-size="9.7" fill="#050505">Mo-4<tspan font-style="italic">d</tspan></text><line x1="516.3" y1="404.6" x2="531.2" y2="404.6" stroke="#f06a6a" stroke-width="1.1"/><text x="533.6" y="407.9" font-size="9.7" fill="#050505">S5*-3<tspan font-style="italic">p</tspan></text><rect x="511.9" y="383.65" width="161.4" height="124.45" fill="none" stroke="#1a1a1a" stroke-width="1.3"/><line x1="511.9" y1="415.1" x2="514.5" y2="415.1" stroke="#0a0a0a" stroke-width="1"/><line x1="511.9" y1="446.2" x2="514.5" y2="446.2" stroke="#0a0a0a" stroke-width="1"/><line x1="511.9" y1="477.3" x2="514.5" y2="477.3" stroke="#0a0a0a" stroke-width="1"/><line x1="511.9" y1="399.55" x2="513.4" y2="399.55" stroke="#0a0a0a" stroke-width="1"/><line x1="511.9" y1="430.65" x2="513.4" y2="430.65" stroke="#0a0a0a" stroke-width="1"/><line x1="511.9" y1="461.75" x2="513.4" y2="461.75" stroke="#0a0a0a" stroke-width="1"/><line x1="511.9" y1="492.85" x2="513.4" y2="492.85" stroke="#0a0a0a" stroke-width="1"/><line x1="531.99" y1="508.1" x2="531.99" y2="505.5" stroke="#0a0a0a" stroke-width="1"/><line x1="552.16" y1="508.1" x2="552.16" y2="505.5" stroke="#0a0a0a" stroke-width="1"/><line x1="572.33" y1="508.1" x2="572.33" y2="505.5" stroke="#0a0a0a" stroke-width="1"/><line x1="592.5" y1="508.1" x2="592.5" y2="505.5" stroke="#0a0a0a" stroke-width="1"/><line x1="612.67" y1="508.1" x2="612.67" y2="505.5" stroke="#0a0a0a" stroke-width="1"/><line x1="632.84" y1="508.1" x2="632.84" y2="505.5" stroke="#0a0a0a" stroke-width="1"/><line x1="653.01" y1="508.1" x2="653.01" y2="505.5" stroke="#0a0a0a" stroke-width="1"/><line x1="521.9" y1="508.1" x2="521.9" y2="506.6" stroke="#0a0a0a" stroke-width="1"/><line x1="542.08" y1="508.1" x2="542.08" y2="506.6" stroke="#0a0a0a" stroke-width="1"/><line x1="562.25" y1="508.1" x2="562.25" y2="506.6" stroke="#0a0a0a" stroke-width="1"/><line x1="582.41" y1="508.1" x2="582.41" y2="506.6" stroke="#0a0a0a" stroke-width="1"/><line x1="602.59" y1="508.1" x2="602.59" y2="506.6" stroke="#0a0a0a" stroke-width="1"/><line x1="622.75" y1="508.1" x2="622.75" y2="506.6" stroke="#0a0a0a" stroke-width="1"/><line x1="642.92" y1="508.1" x2="642.92" y2="506.6" stroke="#0a0a0a" stroke-width="1"/><line x1="663.1" y1="508.1" x2="663.1" y2="506.6" stroke="#0a0a0a" stroke-width="1"/><text x="508.8" y="387.2" font-size="11" fill="#050505" text-anchor="end">2</text><text x="508.8" y="418.3" font-size="11" fill="#050505" text-anchor="end">1</text><text x="508.8" y="449.4" font-size="11" fill="#050505" text-anchor="end">0</text><text x="508.8" y="480.5" font-size="11" fill="#050505" text-anchor="end">-1</text><text x="508.8" y="511.6" font-size="11" fill="#050505" text-anchor="end">-2</text><text x="511.82" y="520.1" font-size="11" fill="#050505" text-anchor="middle">-4</text><text x="531.99" y="520.1" font-size="11" fill="#050505" text-anchor="middle">-3</text><text x="552.16" y="520.1" font-size="11" fill="#050505" text-anchor="middle">-2</text><text x="572.33" y="520.1" font-size="11" fill="#050505" text-anchor="middle">-1</text><text x="592.5" y="520.1" font-size="11" fill="#050505" text-anchor="middle">0</text><text x="612.67" y="520.1" font-size="11" fill="#050505" text-anchor="middle">1</text><text x="632.84" y="520.1" font-size="11" fill="#050505" text-anchor="middle">2</text><text x="653.01" y="520.1" font-size="11" fill="#050505" text-anchor="middle">3</text><text x="673.18" y="520.1" font-size="11" fill="#050505" text-anchor="middle">4</text><text x="592.6" y="530.8" font-size="11.1" fill="#050505" text-anchor="middle">Energy (eV)</text><text x="495.4" y="446.27" font-size="10.9" fill="#050505" text-anchor="middle" transform="rotate(-90 495.4 446.27)">PDOS (State/eV)</text></g>
<g id="pj"><rect x="47.3" y="626.1" width="163.4" height="13.3" fill="#fbd2d2"/><polyline points="59.6,559 71,621 110,624.9 124,635.9 169.2,650.3 202.9,660.4" fill="none" stroke="#5a6cc4" stroke-width="0.9"/><circle cx="59.6" cy="559" r="2.8" fill="#5a6cc4"/><circle cx="71" cy="621" r="2.8" fill="#5a6cc4"/><circle cx="110" cy="624.9" r="2.8" fill="#5a6cc4"/><circle cx="124" cy="635.9" r="2.8" fill="#7a62a8"/><circle cx="169.2" cy="650.3" r="2.8" fill="#5a6cc4"/><circle cx="202.9" cy="660.4" r="2.8" fill="#5a6cc4"/><rect x="47.3" y="553.4" width="163.4" height="128.8" fill="none" stroke="#111" stroke-width="1.15"/><line x1="47.3" y1="559.3" x2="49.9" y2="559.3" stroke="#0a0a0a" stroke-width="1"/><line x1="47.3" y1="583.9" x2="49.9" y2="583.9" stroke="#0a0a0a" stroke-width="1"/><line x1="47.3" y1="608.5" x2="49.9" y2="608.5" stroke="#0a0a0a" stroke-width="1"/><line x1="47.3" y1="633.1" x2="49.9" y2="633.1" stroke="#0a0a0a" stroke-width="1"/><line x1="47.3" y1="657.7" x2="49.9" y2="657.7" stroke="#0a0a0a" stroke-width="1"/><line x1="47.3" y1="571.6" x2="48.8" y2="571.6" stroke="#0a0a0a" stroke-width="1"/><line x1="47.3" y1="596.2" x2="48.8" y2="596.2" stroke="#0a0a0a" stroke-width="1"/><line x1="47.3" y1="620.8" x2="48.8" y2="620.8" stroke="#0a0a0a" stroke-width="1"/><line x1="47.3" y1="645.4" x2="48.8" y2="645.4" stroke="#0a0a0a" stroke-width="1"/><line x1="47.3" y1="670" x2="48.8" y2="670" stroke="#0a0a0a" stroke-width="1"/><line x1="59.6" y1="682.2" x2="59.6" y2="679.6" stroke="#0a0a0a" stroke-width="1"/><line x1="84.8" y1="682.2" x2="84.8" y2="679.6" stroke="#0a0a0a" stroke-width="1"/><line x1="110" y1="682.2" x2="110" y2="679.6" stroke="#0a0a0a" stroke-width="1"/><line x1="135.2" y1="682.2" x2="135.2" y2="679.6" stroke="#0a0a0a" stroke-width="1"/><line x1="160.4" y1="682.2" x2="160.4" y2="679.6" stroke="#0a0a0a" stroke-width="1"/><line x1="185.6" y1="682.2" x2="185.6" y2="679.6" stroke="#0a0a0a" stroke-width="1"/><line x1="72.2" y1="682.2" x2="72.2" y2="680.7" stroke="#0a0a0a" stroke-width="1"/><line x1="97.4" y1="682.2" x2="97.4" y2="680.7" stroke="#0a0a0a" stroke-width="1"/><line x1="122.6" y1="682.2" x2="122.6" y2="680.7" stroke="#0a0a0a" stroke-width="1"/><line x1="147.8" y1="682.2" x2="147.8" y2="680.7" stroke="#0a0a0a" stroke-width="1"/><line x1="173" y1="682.2" x2="173" y2="680.7" stroke="#0a0a0a" stroke-width="1"/><line x1="198.2" y1="682.2" x2="198.2" y2="680.7" stroke="#0a0a0a" stroke-width="1"/><text x="44.4" y="562.4" font-size="8.8" fill="#050505" text-anchor="end">0.6</text><text x="44.4" y="587" font-size="8.8" fill="#050505" text-anchor="end">0.4</text><text x="44.4" y="611.6" font-size="8.8" fill="#050505" text-anchor="end">0.2</text><text x="44.4" y="636.2" font-size="8.8" fill="#050505" text-anchor="end">0.0</text><text x="44.4" y="660.8" font-size="8.8" fill="#050505" text-anchor="end">-0.2</text><text x="44.4" y="685.4" font-size="8.8" fill="#050505" text-anchor="end">-0.4</text><text x="59.6" y="691.6" font-size="9" fill="#050505" text-anchor="middle">0</text><text x="84.8" y="691.6" font-size="9" fill="#050505" text-anchor="middle">4</text><text x="110" y="691.6" font-size="9" fill="#050505" text-anchor="middle">8</text><text x="135.2" y="691.6" font-size="9" fill="#050505" text-anchor="middle">12</text><text x="160.4" y="691.6" font-size="9" fill="#050505" text-anchor="middle">16</text><text x="185.6" y="691.6" font-size="9" fill="#050505" text-anchor="middle">20</text><text x="210.8" y="691.6" font-size="9" fill="#050505" text-anchor="middle">24</text><text x="128.9" y="705" font-size="11.2" fill="#050505" text-anchor="middle">S vacancy concentrations (%)</text><text x="24.4" y="618.2" font-size="10.8" fill="#050505" text-anchor="middle" transform="rotate(-90 24.4 618.2)"><tspan font-size="10.8">&#916;G</tspan><tspan font-size="7.78" dy="2.38">H</tspan><tspan font-size="7.78" dy="-3.02">*</tspan><tspan dy="0.65">(eV)</tspan></text></g>
<g id="pk"><rect x="295.1" y="590.2" width="13.6" height="88.1" fill="#fdc897" stroke="#b8966f" stroke-width="0.7"/><rect x="324" y="594.2" width="13.6" height="84.1" fill="#fdc897" stroke="#b8966f" stroke-width="0.7"/><rect x="353.1" y="628.9" width="13.6" height="49.4" fill="#fdc897" stroke="#b8966f" stroke-width="0.7"/><rect x="382.1" y="604" width="13.6" height="74.3" fill="#fdc897" stroke="#b8966f" stroke-width="0.7"/><rect x="411" y="600.9" width="13.6" height="77.4" fill="#fdc897" stroke="#b8966f" stroke-width="0.7"/><rect x="279.8" y="553.05" width="160" height="125.25" fill="none" stroke="#161616" stroke-width="1.15"/><line x1="279.8" y1="584.6" x2="282.4" y2="584.6" stroke="#0a0a0a" stroke-width="1"/><line x1="279.8" y1="615.9" x2="282.4" y2="615.9" stroke="#0a0a0a" stroke-width="1"/><line x1="279.8" y1="647.3" x2="282.4" y2="647.3" stroke="#0a0a0a" stroke-width="1"/><line x1="279.8" y1="568.83" x2="281.3" y2="568.83" stroke="#0a0a0a" stroke-width="1"/><line x1="279.8" y1="600.25" x2="281.3" y2="600.25" stroke="#0a0a0a" stroke-width="1"/><line x1="279.8" y1="631.6" x2="281.3" y2="631.6" stroke="#0a0a0a" stroke-width="1"/><line x1="279.8" y1="662.8" x2="281.3" y2="662.8" stroke="#0a0a0a" stroke-width="1"/><text x="277.2" y="556.15" font-size="9" fill="#050505" text-anchor="end">400</text><text x="277.2" y="587.7" font-size="9" fill="#050505" text-anchor="end">300</text><text x="277.2" y="619" font-size="9" fill="#050505" text-anchor="end">200</text><text x="277.2" y="650.4" font-size="9" fill="#050505" text-anchor="end">100</text><text x="277.2" y="681.4" font-size="9" fill="#050505" text-anchor="end">0</text><text x="301.9" y="687.6" font-size="9" fill="#050505" text-anchor="middle">2</text><text x="330.8" y="687.6" font-size="9" fill="#050505" text-anchor="middle">7.7</text><text x="359.9" y="687.6" font-size="9" fill="#050505" text-anchor="middle">10.6</text><text x="388.9" y="687.6" font-size="9" fill="#050505" text-anchor="middle">17.9</text><text x="417.8" y="687.6" font-size="9" fill="#050505" text-anchor="middle">22.9</text><text x="359.6" y="700.9" font-size="11" fill="#050505" text-anchor="middle">S vacancy concentrations (%)</text><text x="258.2" y="616.4" font-size="10.9" fill="#050505" text-anchor="middle" transform="rotate(-90 258.2 616.4)">E(V vs. RHE)</text></g>
<g id="pl"><rect x="527.9" y="633.3" width="14.2" height="48" fill="#9cd89c" stroke="#86a887" stroke-width="0.7"/><rect x="557" y="633.3" width="14.2" height="48" fill="#9cd89c" stroke="#86a887" stroke-width="0.7"/><rect x="586.3" y="602.1" width="14.2" height="79.2" fill="#9cd89c" stroke="#86a887" stroke-width="0.7"/><rect x="615.4" y="606.8" width="14.2" height="74.5" fill="#9cd89c" stroke="#86a887" stroke-width="0.7"/><rect x="644.6" y="609.3" width="14.2" height="72" fill="#9cd89c" stroke="#86a887" stroke-width="0.7"/><rect x="512.5" y="555.3" width="161.1" height="126" fill="none" stroke="#161616" stroke-width="1.15"/><line x1="512.5" y1="586.7" x2="515.1" y2="586.7" stroke="#0a0a0a" stroke-width="1"/><line x1="512.5" y1="618.3" x2="515.1" y2="618.3" stroke="#0a0a0a" stroke-width="1"/><line x1="512.5" y1="649.6" x2="515.1" y2="649.6" stroke="#0a0a0a" stroke-width="1"/><line x1="512.5" y1="571" x2="514" y2="571" stroke="#0a0a0a" stroke-width="1"/><line x1="512.5" y1="602.5" x2="514" y2="602.5" stroke="#0a0a0a" stroke-width="1"/><line x1="512.5" y1="633.95" x2="514" y2="633.95" stroke="#0a0a0a" stroke-width="1"/><line x1="512.5" y1="665.45" x2="514" y2="665.45" stroke="#0a0a0a" stroke-width="1"/><text x="509.8" y="558.4" font-size="9" fill="#050505" text-anchor="end">40</text><text x="509.8" y="589.8" font-size="9" fill="#050505" text-anchor="end">30</text><text x="509.8" y="621.4" font-size="9" fill="#050505" text-anchor="end">20</text><text x="509.8" y="652.7" font-size="9" fill="#050505" text-anchor="end">10</text><text x="509.8" y="684.4" font-size="9" fill="#050505" text-anchor="end">0</text><text x="535" y="690.6" font-size="9" fill="#050505" text-anchor="middle">2</text><text x="564.1" y="690.6" font-size="9" fill="#050505" text-anchor="middle">7.7</text><text x="593.4" y="690.6" font-size="9" fill="#050505" text-anchor="middle">10.6</text><text x="622.5" y="690.6" font-size="9" fill="#050505" text-anchor="middle">17.9</text><text x="651.7" y="690.6" font-size="9" fill="#050505" text-anchor="middle">22.9</text><text x="593" y="703.7" font-size="11" fill="#050505" text-anchor="middle">S vacancy concentrations (%)</text><text x="495.4" y="618.5" font-size="10.9" fill="#050505" text-anchor="middle" transform="rotate(-90 495.4 618.5)">ECSA (mF cm<tspan font-size="7.6" dy="-4.8">-2</tspan><tspan dy="4.8">)</tspan></text></g>
<g font-size="18.5" fill="#000"><text x="2" y="13.8">a</text><text x="230.3" y="13.5">b</text><text x="463.8" y="13.8">c</text><text x="-0.8" y="204">d</text><text x="230.2" y="203.5">e</text><text x="468.4" y="203.2">f</text><text x="2" y="376.8">g</text><text x="230.2" y="378.2">h</text><text x="469.8" y="376.8">i</text><text x="1.7" y="552">j</text><text x="234.3" y="554.9">k</text><text x="471.1" y="555.8">l</text></g>
</g>
</svg>
</body></html>
